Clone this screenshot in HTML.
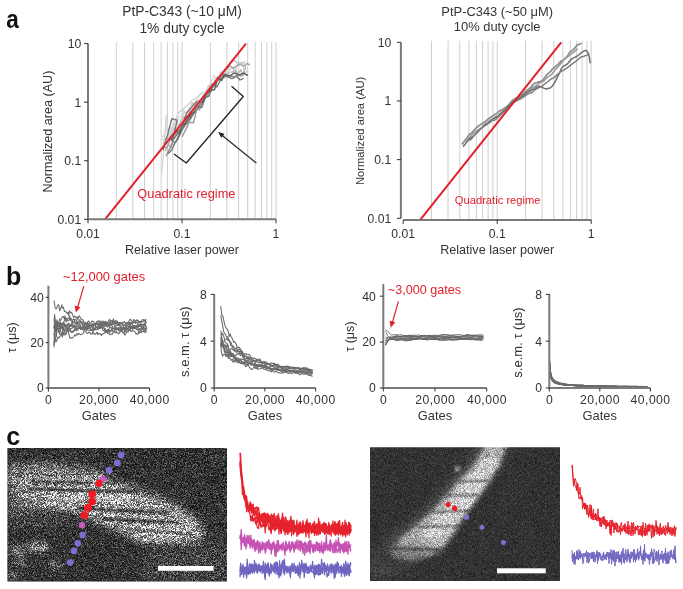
<!DOCTYPE html>
<html><head><meta charset="utf-8"><style>
html,body{margin:0;padding:0;background:#fff;width:683px;height:589px;overflow:hidden}
svg{position:absolute;left:0;top:0;font-family:"Liberation Sans",sans-serif;will-change:transform}
</style></head><body>
<svg width="683" height="589" viewBox="0 0 683 589">
<defs>

<filter id="spk1" x="0" y="0" width="1" height="1" filterUnits="objectBoundingBox" color-interpolation-filters="sRGB">
 <feTurbulence type="fractalNoise" baseFrequency="1.9" numOctaves="1" seed="3" result="nz"/>
 <feColorMatrix in="nz" type="matrix" values="2.6 0 0 0 -0.8  2.6 0 0 0 -0.8  2.6 0 0 0 -0.8  0 0 0 0 1" result="ng"/>
 <feComponentTransfer in="ng" result="ngp"><feFuncR type="gamma" exponent="1.5"/><feFuncG type="gamma" exponent="1.5"/><feFuncB type="gamma" exponent="1.5"/></feComponentTransfer>
 <feGaussianBlur in="ngp" stdDeviation="0.5" result="ngb"/>
 <feComposite in="SourceGraphic" in2="ngb" operator="arithmetic" k1="1.5" k2="0.42" k3="0.07" k4="-0.03"/>
</filter>

<filter id="spk2" x="0" y="0" width="1" height="1" filterUnits="objectBoundingBox" color-interpolation-filters="sRGB">
 <feTurbulence type="fractalNoise" baseFrequency="1.9" numOctaves="1" seed="8" result="nz"/>
 <feColorMatrix in="nz" type="matrix" values="2.6 0 0 0 -0.8  2.6 0 0 0 -0.8  2.6 0 0 0 -0.8  0 0 0 0 1" result="ng"/>
 <feGaussianBlur in="ng" stdDeviation="0.55" result="ngb"/>
 <feComposite in="SourceGraphic" in2="ngb" operator="arithmetic" k1="0.6" k2="0.72" k3="0.05" k4="-0.025"/>
</filter>

<filter id="bl6" x="-50%" y="-50%" width="200%" height="200%"><feGaussianBlur stdDeviation="6"/></filter>
<filter id="bl4" x="-50%" y="-50%" width="200%" height="200%"><feGaussianBlur stdDeviation="4"/></filter>
<filter id="bl2" x="-50%" y="-50%" width="200%" height="200%"><feGaussianBlur stdDeviation="2"/></filter>
<filter id="bl3" x="-50%" y="-50%" width="200%" height="200%"><feGaussianBlur stdDeviation="3"/></filter>
<filter id="bl1" x="-50%" y="-50%" width="200%" height="200%"><feGaussianBlur stdDeviation="1"/></filter>
<clipPath id="cp1"><rect x="7.4" y="448" width="219.6" height="133.5"/></clipPath>
<clipPath id="cp2"><rect x="370" y="447.3" width="190" height="133.7"/></clipPath>

</defs>

<g clip-path="url(#cp1)"><g filter="url(#spk1)">
 <rect x="7.4" y="448" width="219.6" height="133.5" fill="#353535"/>
 <g filter="url(#bl6)">
  <polygon points="8,467 50,465 92,471 112,480 100,490 40,491 8,493" fill="#969696"/>
  <polygon points="8,490 40,490 58,505 45,520 8,522" fill="#626262"/>
 </g>
 <g filter="url(#bl4)">
  <polygon points="30,478 90,477 140,490 177,506 199,522 205,536 196,544 152,542 115,530 77,513 40,507 15,500" fill="#a2a2a2"/>
 </g>
 <g filter="url(#bl6)">
  <polygon points="150,550 227,542 227,581 140,581" fill="#484848"/>
 </g>
 <g filter="url(#bl4)">
  <ellipse cx="88" cy="498" rx="45" ry="8" fill="#c8c8c8"/>
  <ellipse cx="162" cy="531" rx="34" ry="9" fill="#c4c4c4"/>
 </g>
 <g filter="url(#bl3)">
  <ellipse cx="38" cy="547" rx="11" ry="4.5" fill="#a4a4a4"/>
  <ellipse cx="17" cy="550" rx="8" ry="4.5" fill="#8a8a8a"/>
  <ellipse cx="19" cy="562" rx="6" ry="4" fill="#7c7c7c"/>
  <ellipse cx="56" cy="565" rx="7" ry="4" fill="#747474"/>
  <ellipse cx="12" cy="576" rx="6" ry="4" fill="#6c6c6c"/>
  <ellipse cx="40" cy="520" rx="30" ry="8" fill="#4a4a4a"/>
 </g>
 <g filter="url(#bl1)" stroke="#1c1c1c" stroke-width="2.6" fill="none">
  <path d="M28,489 L140,492"/>
  <path d="M77,508 L169,513"/>
  <path d="M102,519 L179,523"/>
  <path d="M30,482 L92,483" stroke-width="1.8"/>
  <path d="M15,474 L80,475" stroke-width="1.6" opacity="0.7"/>
  <path d="M20,500 L110,503" stroke-width="1.6" opacity="0.6"/>
  <path d="M125,529 L192,534" stroke-width="1.8" opacity="0.8"/>
 </g>
</g></g>

<g clip-path="url(#cp2)"><g filter="url(#spk2)">
 <rect x="370" y="447.3" width="190" height="133.7" fill="#313131"/>
 <g filter="url(#bl6)">
  <polygon points="483,440 510,440 498,467 482,482 472,496 462,511 453,532 442,547 431,558 412,569 385,576 370,572 370,552 392,537 412,522 426,508 440,494 452,480 466,466" fill="#505050"/>
 </g>
 <g filter="url(#bl2)">
  <polygon points="487,444 507,444 499,467 486,481.6 476,496 466,511 456,530 444,546 431,556 412,561 395,558 390,550 403,537 420,523 432,511 446,496 458,481.6 472,467" fill="#aaaaaa"/>
  <polygon points="485,458 500,458 490,481 474,503 460,522 446,536 430,541 424,532 440,512 455,493 470,474" fill="#cacaca"/>
 </g>
 <g filter="url(#bl6)">
  <ellipse cx="402" cy="557" rx="34" ry="13" fill="#000" opacity="0.28"/>
 </g>
 <g filter="url(#bl1)">
  <circle cx="457.3" cy="469" r="3" fill="#858585"/>
 </g>
 <g filter="url(#bl1)" stroke="#454545" stroke-width="2" fill="none" opacity="0.85">
  <path d="M458,482 L490,481"/>
  <path d="M446,495.5 L480,495"/>
  <path d="M432,512 L470,511"/>
  <path d="M418,527 L462,526"/>
  <path d="M390,548.5 L440,549.5" stroke-width="3"/>
 </g>
</g></g>
<rect x="158" y="566" width="55.5" height="4.8" fill="#fff"/>
<rect x="497" y="568.3" width="48.7" height="5" fill="#fff"/>
<g id="dots1">
<circle cx="121" cy="455.1" r="3.3" fill="#7a6fd3"/>
<circle cx="117.3" cy="462.9" r="3.3" fill="#7a6fd3"/>
<circle cx="109" cy="470.3" r="3.3" fill="#7a6fd3"/>
<circle cx="103" cy="479.1" r="3.3" fill="#c35cbd"/>
<circle cx="98.9" cy="483.4" r="3.7" fill="#ee1b24"/>
<circle cx="92.3" cy="494.1" r="3.9" fill="#ee1b24"/>
<circle cx="92.1" cy="501.5" r="3.9" fill="#ee1b24"/>
<circle cx="87.9" cy="507.8" r="3.9" fill="#ee1b24"/>
<circle cx="84.4" cy="515.2" r="3.9" fill="#ee1b24"/>
<circle cx="82" cy="525.2" r="3.3" fill="#c35cbd"/>
<circle cx="82.6" cy="535" r="3.3" fill="#7a6fd3"/>
<circle cx="77.8" cy="543.3" r="3.3" fill="#7a6fd3"/>
<circle cx="73.9" cy="551" r="3.3" fill="#7a6fd3"/>
<circle cx="70.1" cy="562.5" r="3.3" fill="#7a6fd3"/>
</g>
<g id="dots2">
<circle cx="448.2" cy="504.6" r="2.6" fill="#ee1b24"/>
<circle cx="454.6" cy="508.4" r="2.6" fill="#ee1b24"/>
<circle cx="466.7" cy="517.2" r="2.5" fill="#7a6fd3"/>
<circle cx="481.9" cy="527.3" r="2.5" fill="#7a6fd3"/>
<circle cx="503.4" cy="542.5" r="2.5" fill="#7a6fd3"/>
</g>
<polyline points="240.0,453.1 240.6,465.5 241.2,467.1 241.8,473.9 242.4,484.1 243.0,493.7 243.6,493.5 244.2,491.9 244.8,496.3 245.4,501.4 246.0,507.1 246.6,506.0 247.2,506.6 247.8,508.7 248.4,511.5 249.0,509.7 249.6,513.4 250.2,515.4 250.8,520.9 251.4,516.2 252.0,520.4 252.6,514.5 253.2,521.5 253.8,519.9 254.4,518.2 255.0,520.4 255.6,524.0 256.2,520.5 256.8,525.4 257.4,527.5 258.0,528.2 258.6,528.6 259.2,519.3 259.8,525.0 260.4,521.9 261.0,527.6 261.6,525.0 262.2,525.7 262.8,526.8 263.4,523.5 264.0,526.0 264.6,523.5 265.2,533.0 265.8,524.7 266.4,526.4 267.0,520.6 267.6,521.8 268.2,524.0 268.8,529.6 269.4,529.6 270.0,528.1 270.6,525.1 271.2,533.6 271.8,524.1 272.4,524.7 273.0,529.3 273.6,524.4 274.2,528.7 274.8,531.1 275.4,527.7 276.0,529.4 276.6,528.2 277.2,525.9 277.8,517.6 278.4,524.2 279.0,528.3 279.6,522.9 280.2,526.5 280.8,529.1 281.4,532.9 282.0,523.9 282.6,526.8 283.2,529.3 283.8,530.4 284.4,524.0 285.0,534.9 285.6,526.0 286.2,532.4 286.8,528.1 287.4,530.1 288.0,534.4 288.6,531.2 289.2,529.3 289.8,525.5 290.4,526.7 291.0,524.1 291.6,535.7 292.2,523.7 292.8,520.3 293.4,534.5 294.0,533.3 294.6,527.8 295.2,531.9 295.8,526.3 296.4,527.1 297.0,530.8 297.6,530.4 298.2,527.6 298.8,534.6 299.4,531.6 300.0,529.6 300.6,525.2 301.2,529.6 301.8,528.1 302.4,528.9 303.0,531.9 303.6,527.3 304.2,530.1 304.8,531.9 305.4,530.4 306.0,537.0 306.6,523.4 307.2,529.1 307.8,525.3 308.4,529.1 309.0,537.8 309.6,523.8 310.2,528.3 310.8,531.5 311.4,529.6 312.0,532.4 312.6,524.1 313.2,532.6 313.8,526.1 314.4,525.3 315.0,531.3 315.6,531.0 316.2,526.9 316.8,526.6 317.4,528.7 318.0,529.4 318.6,528.8 319.2,526.0 319.8,521.6 320.4,533.9 321.0,530.0 321.6,525.2 322.2,524.1 322.8,527.1 323.4,528.0 324.0,522.3 324.6,534.2 325.2,530.9 325.8,528.4 326.4,530.7 327.0,530.3 327.6,533.1 328.2,530.0 328.8,533.8 329.4,534.7 330.0,528.4 330.6,528.0 331.2,526.5 331.8,528.7 332.4,527.1 333.0,529.6 333.6,530.6 334.2,531.4 334.8,525.6 335.4,533.2 336.0,528.5 336.6,529.2 337.2,527.8 337.8,522.8 338.4,530.4 339.0,523.6 339.6,533.3 340.2,529.7 340.8,534.9 341.4,531.8 342.0,532.0 342.6,534.3 343.2,529.5 343.8,534.8 344.4,529.2 345.0,530.5 345.6,527.3 346.2,531.5 346.8,531.9 347.4,527.9 348.0,525.3 348.6,529.5 349.2,531.1 349.8,529.1 350.4,526.3 351.0,527.2" fill="none" stroke="#e6222c" stroke-width="1.2" stroke-linejoin="round" />
<polyline points="240.0,452.6 240.6,454.1 241.2,468.7 241.8,481.9 242.4,478.0 243.0,485.9 243.6,496.0 244.2,495.8 244.8,499.2 245.4,497.8 246.0,495.8 246.6,511.8 247.2,504.6 247.8,505.8 248.4,511.8 249.0,510.2 249.6,508.7 250.2,505.7 250.8,509.8 251.4,510.7 252.0,509.7 252.6,509.8 253.2,510.0 253.8,513.7 254.4,512.7 255.0,516.7 255.6,519.3 256.2,517.5 256.8,517.0 257.4,522.7 258.0,520.1 258.6,513.4 259.2,516.4 259.8,519.9 260.4,516.6 261.0,522.6 261.6,514.4 262.2,514.3 262.8,524.4 263.4,523.3 264.0,516.3 264.6,522.2 265.2,526.8 265.8,518.8 266.4,518.8 267.0,518.9 267.6,520.0 268.2,517.6 268.8,522.1 269.4,519.0 270.0,524.4 270.6,531.9 271.2,521.0 271.8,527.8 272.4,528.9 273.0,517.2 273.6,525.6 274.2,525.3 274.8,524.4 275.4,528.4 276.0,524.3 276.6,527.1 277.2,524.8 277.8,525.7 278.4,523.7 279.0,534.1 279.6,526.3 280.2,522.8 280.8,533.3 281.4,532.2 282.0,526.3 282.6,524.8 283.2,524.6 283.8,531.4 284.4,526.2 285.0,524.9 285.6,530.3 286.2,526.6 286.8,527.4 287.4,534.2 288.0,530.6 288.6,532.0 289.2,529.2 289.8,532.2 290.4,527.3 291.0,531.2 291.6,531.6 292.2,526.7 292.8,523.8 293.4,530.0 294.0,527.8 294.6,530.3 295.2,526.3 295.8,530.1 296.4,531.6 297.0,536.4 297.6,534.5 298.2,529.8 298.8,533.4 299.4,526.4 300.0,532.6 300.6,529.1 301.2,533.1 301.8,529.8 302.4,527.9 303.0,526.3 303.6,533.0 304.2,529.0 304.8,531.2 305.4,530.4 306.0,521.9 306.6,530.9 307.2,527.6 307.8,530.2 308.4,530.6 309.0,522.8 309.6,527.9 310.2,528.8 310.8,530.3 311.4,532.2 312.0,526.7 312.6,528.3 313.2,531.2 313.8,522.9 314.4,535.4 315.0,525.9 315.6,533.6 316.2,529.6 316.8,535.5 317.4,532.7 318.0,529.1 318.6,523.5 319.2,529.7 319.8,530.3 320.4,531.1 321.0,525.0 321.6,526.5 322.2,526.6 322.8,530.2 323.4,526.3 324.0,528.9 324.6,532.5 325.2,527.9 325.8,533.9 326.4,530.3 327.0,528.5 327.6,533.1 328.2,531.0 328.8,528.4 329.4,527.4 330.0,529.2 330.6,530.6 331.2,533.3 331.8,530.3 332.4,527.3 333.0,524.9 333.6,530.3 334.2,530.8 334.8,533.3 335.4,527.7 336.0,525.1 336.6,532.3 337.2,528.9 337.8,525.4 338.4,535.1 339.0,532.5 339.6,529.7 340.2,530.5 340.8,527.0 341.4,532.9 342.0,528.1 342.6,528.0 343.2,528.5 343.8,525.7 344.4,533.0 345.0,535.2 345.6,532.1 346.2,522.6 346.8,528.5 347.4,527.4 348.0,530.8 348.6,522.3 349.2,522.3 349.8,528.0 350.4,532.9 351.0,529.0" fill="none" stroke="#e6222c" stroke-width="1.2" stroke-linejoin="round" />
<polyline points="240.0,464.0 240.6,462.6 241.2,472.9 241.8,478.1 242.4,480.7 243.0,491.2 243.6,486.3 244.2,490.0 244.8,494.6 245.4,496.3 246.0,503.4 246.6,499.3 247.2,504.1 247.8,502.1 248.4,509.0 249.0,505.6 249.6,507.5 250.2,501.9 250.8,510.6 251.4,506.7 252.0,512.6 252.6,511.9 253.2,512.7 253.8,515.2 254.4,513.3 255.0,509.6 255.6,513.6 256.2,514.1 256.8,510.1 257.4,516.6 258.0,519.9 258.6,516.2 259.2,516.2 259.8,517.8 260.4,520.3 261.0,515.2 261.6,520.6 262.2,515.2 262.8,519.9 263.4,520.1 264.0,514.4 264.6,521.3 265.2,520.1 265.8,514.0 266.4,518.4 267.0,518.1 267.6,517.5 268.2,522.1 268.8,518.3 269.4,521.4 270.0,517.8 270.6,520.8 271.2,528.1 271.8,523.6 272.4,517.1 273.0,519.4 273.6,522.3 274.2,517.5 274.8,526.5 275.4,523.2 276.0,523.3 276.6,523.9 277.2,521.6 277.8,520.2 278.4,513.7 279.0,518.9 279.6,525.3 280.2,526.9 280.8,524.1 281.4,518.7 282.0,523.9 282.6,525.3 283.2,520.9 283.8,530.0 284.4,521.7 285.0,525.6 285.6,522.1 286.2,528.9 286.8,521.7 287.4,523.0 288.0,529.9 288.6,522.0 289.2,524.5 289.8,528.3 290.4,527.7 291.0,520.7 291.6,528.7 292.2,525.8 292.8,531.0 293.4,521.1 294.0,529.6 294.6,528.4 295.2,525.9 295.8,525.8 296.4,528.6 297.0,525.0 297.6,526.2 298.2,524.9 298.8,528.0 299.4,529.8 300.0,522.3 300.6,527.8 301.2,528.8 301.8,532.9 302.4,525.3 303.0,532.1 303.6,526.4 304.2,529.6 304.8,528.8 305.4,529.0 306.0,527.0 306.6,524.8 307.2,533.2 307.8,533.1 308.4,527.9 309.0,527.7 309.6,527.6 310.2,523.9 310.8,524.7 311.4,529.8 312.0,531.7 312.6,527.7 313.2,525.4 313.8,524.9 314.4,526.5 315.0,531.0 315.6,528.8 316.2,523.9 316.8,524.8 317.4,529.8 318.0,529.8 318.6,534.7 319.2,533.6 319.8,529.4 320.4,526.5 321.0,529.5 321.6,525.0 322.2,526.6 322.8,532.3 323.4,531.0 324.0,532.1 324.6,534.2 325.2,527.6 325.8,531.7 326.4,529.3 327.0,530.1 327.6,529.8 328.2,530.9 328.8,524.4 329.4,524.5 330.0,529.4 330.6,530.8 331.2,527.5 331.8,528.8 332.4,524.4 333.0,532.4 333.6,530.8 334.2,534.3 334.8,527.9 335.4,528.9 336.0,529.5 336.6,533.9 337.2,531.2 337.8,530.6 338.4,523.8 339.0,526.4 339.6,524.4 340.2,528.7 340.8,532.2 341.4,529.5 342.0,526.3 342.6,536.2 343.2,525.7 343.8,534.1 344.4,533.3 345.0,530.3 345.6,534.0 346.2,525.8 346.8,527.6 347.4,528.4 348.0,530.7 348.6,528.9 349.2,535.2 349.8,528.2 350.4,528.7 351.0,525.4" fill="none" stroke="#e6222c" stroke-width="1.2" stroke-linejoin="round" />
<polyline points="240.0,461.1 240.6,470.8 241.2,472.6 241.8,476.5 242.4,480.7 243.0,493.0 243.6,494.8 244.2,495.7 244.8,499.4 245.4,500.3 246.0,501.8 246.6,496.1 247.2,504.5 247.8,506.1 248.4,508.5 249.0,508.8 249.6,504.0 250.2,507.9 250.8,502.9 251.4,513.1 252.0,504.2 252.6,511.8 253.2,507.2 253.8,507.7 254.4,507.9 255.0,510.2 255.6,513.1 256.2,516.0 256.8,511.6 257.4,515.9 258.0,516.4 258.6,520.8 259.2,512.2 259.8,515.6 260.4,517.3 261.0,515.8 261.6,517.7 262.2,513.7 262.8,515.1 263.4,514.5 264.0,514.7 264.6,514.2 265.2,517.2 265.8,513.6 266.4,516.1 267.0,520.3 267.6,513.3 268.2,515.3 268.8,517.7 269.4,515.7 270.0,516.2 270.6,526.1 271.2,521.2 271.8,518.7 272.4,518.0 273.0,515.4 273.6,517.0 274.2,513.3 274.8,523.2 275.4,519.8 276.0,524.7 276.6,521.8 277.2,515.3 277.8,528.6 278.4,524.1 279.0,525.6 279.6,520.8 280.2,521.0 280.8,522.4 281.4,529.2 282.0,519.1 282.6,519.9 283.2,525.4 283.8,517.1 284.4,528.9 285.0,520.1 285.6,528.2 286.2,523.8 286.8,523.2 287.4,520.7 288.0,529.5 288.6,523.8 289.2,520.4 289.8,527.1 290.4,524.6 291.0,526.9 291.6,523.9 292.2,526.6 292.8,527.0 293.4,525.7 294.0,520.2 294.6,527.4 295.2,530.5 295.8,527.4 296.4,529.2 297.0,528.8 297.6,525.2 298.2,529.9 298.8,525.6 299.4,523.1 300.0,522.3 300.6,530.1 301.2,529.0 301.8,528.8 302.4,524.9 303.0,520.7 303.6,529.5 304.2,526.7 304.8,525.0 305.4,525.0 306.0,525.2 306.6,521.0 307.2,529.4 307.8,529.7 308.4,530.3 309.0,526.2 309.6,523.3 310.2,522.9 310.8,526.5 311.4,533.5 312.0,530.8 312.6,527.8 313.2,529.4 313.8,530.6 314.4,528.1 315.0,528.7 315.6,528.7 316.2,526.0 316.8,524.2 317.4,526.2 318.0,532.0 318.6,522.8 319.2,526.7 319.8,526.8 320.4,528.4 321.0,526.8 321.6,531.0 322.2,527.1 322.8,528.3 323.4,530.8 324.0,523.7 324.6,532.1 325.2,532.0 325.8,524.1 326.4,528.2 327.0,526.1 327.6,527.4 328.2,531.3 328.8,522.3 329.4,531.5 330.0,530.1 330.6,528.7 331.2,536.2 331.8,527.1 332.4,523.7 333.0,530.1 333.6,529.3 334.2,526.7 334.8,521.7 335.4,522.5 336.0,534.4 336.6,523.8 337.2,533.6 337.8,531.7 338.4,521.6 339.0,529.6 339.6,531.2 340.2,532.8 340.8,533.5 341.4,533.3 342.0,529.0 342.6,528.3 343.2,528.4 343.8,530.9 344.4,526.0 345.0,525.6 345.6,536.9 346.2,532.4 346.8,532.8 347.4,528.4 348.0,526.4 348.6,527.8 349.2,526.6 349.8,527.2 350.4,524.0 351.0,531.4" fill="none" stroke="#e6222c" stroke-width="1.2" stroke-linejoin="round" />
<polyline points="240.0,463.6 240.6,473.6 241.2,478.0 241.8,480.8 242.4,494.5 243.0,494.4 243.6,496.0 244.2,499.5 244.8,497.5 245.4,502.6 246.0,499.1 246.6,506.2 247.2,507.0 247.8,507.6 248.4,506.9 249.0,506.7 249.6,507.7 250.2,510.0 250.8,506.6 251.4,511.0 252.0,511.7 252.6,505.3 253.2,504.3 253.8,511.4 254.4,509.7 255.0,508.5 255.6,507.5 256.2,508.3 256.8,506.8 257.4,511.5 258.0,507.8 258.6,507.6 259.2,513.3 259.8,519.1 260.4,518.5 261.0,514.1 261.6,516.2 262.2,514.4 262.8,515.1 263.4,513.2 264.0,516.1 264.6,512.8 265.2,514.1 265.8,516.3 266.4,516.8 267.0,524.2 267.6,514.6 268.2,514.1 268.8,520.2 269.4,520.2 270.0,520.8 270.6,518.3 271.2,513.9 271.8,517.9 272.4,515.1 273.0,519.3 273.6,525.6 274.2,518.9 274.8,520.5 275.4,523.9 276.0,516.0 276.6,523.2 277.2,519.7 277.8,518.7 278.4,520.0 279.0,518.0 279.6,524.4 280.2,522.0 280.8,520.3 281.4,523.6 282.0,517.1 282.6,513.0 283.2,526.8 283.8,520.6 284.4,525.2 285.0,519.8 285.6,516.9 286.2,519.4 286.8,526.3 287.4,524.6 288.0,521.3 288.6,525.9 289.2,522.7 289.8,524.4 290.4,520.3 291.0,516.4 291.6,524.4 292.2,526.5 292.8,521.4 293.4,529.8 294.0,525.5 294.6,530.5 295.2,527.0 295.8,529.0 296.4,524.1 297.0,520.1 297.6,532.5 298.2,529.6 298.8,527.6 299.4,522.3 300.0,528.5 300.6,522.1 301.2,527.4 301.8,528.8 302.4,527.5 303.0,522.5 303.6,528.0 304.2,526.6 304.8,527.9 305.4,530.4 306.0,524.0 306.6,523.4 307.2,519.2 307.8,531.4 308.4,523.8 309.0,530.9 309.6,527.8 310.2,530.7 310.8,527.5 311.4,528.4 312.0,526.0 312.6,528.4 313.2,523.4 313.8,530.4 314.4,521.4 315.0,525.3 315.6,525.8 316.2,527.5 316.8,526.8 317.4,524.0 318.0,527.5 318.6,518.2 319.2,525.0 319.8,527.2 320.4,525.1 321.0,530.7 321.6,527.0 322.2,529.1 322.8,523.8 323.4,530.8 324.0,530.2 324.6,522.6 325.2,532.5 325.8,523.9 326.4,523.8 327.0,530.6 327.6,533.8 328.2,530.1 328.8,527.4 329.4,525.6 330.0,525.5 330.6,528.7 331.2,529.3 331.8,524.8 332.4,529.8 333.0,520.8 333.6,528.9 334.2,525.1 334.8,523.9 335.4,535.3 336.0,530.3 336.6,527.3 337.2,524.6 337.8,533.1 338.4,528.7 339.0,525.8 339.6,520.4 340.2,531.5 340.8,531.0 341.4,530.2 342.0,524.9 342.6,522.4 343.2,532.4 343.8,527.5 344.4,531.1 345.0,520.0 345.6,527.7 346.2,531.0 346.8,528.5 347.4,534.8 348.0,531.6 348.6,532.2 349.2,531.0 349.8,528.0 350.4,526.1 351.0,526.0" fill="none" stroke="#e6222c" stroke-width="1.2" stroke-linejoin="round" />
<polyline points="240.0,538.8 240.6,537.0 241.2,549.8 241.8,540.2 242.4,539.5 243.0,540.7 243.6,537.8 244.2,537.5 244.8,542.1 245.4,539.1 246.0,543.7 246.6,540.5 247.2,535.4 247.8,537.2 248.4,539.1 249.0,535.4 249.6,542.2 250.2,541.7 250.8,546.2 251.4,540.1 252.0,542.5 252.6,545.5 253.2,546.2 253.8,540.3 254.4,549.3 255.0,542.0 255.6,548.4 256.2,543.4 256.8,543.1 257.4,540.3 258.0,544.3 258.6,553.1 259.2,542.8 259.8,550.4 260.4,549.8 261.0,543.9 261.6,549.2 262.2,550.2 262.8,544.5 263.4,543.7 264.0,549.5 264.6,546.9 265.2,553.1 265.8,547.3 266.4,541.9 267.0,545.8 267.6,541.9 268.2,548.7 268.8,548.5 269.4,544.7 270.0,543.1 270.6,549.3 271.2,545.0 271.8,550.5 272.4,542.9 273.0,545.4 273.6,544.5 274.2,542.8 274.8,555.9 275.4,552.3 276.0,544.3 276.6,549.3 277.2,540.3 277.8,550.9 278.4,550.4 279.0,545.4 279.6,545.4 280.2,547.5 280.8,548.3 281.4,545.4 282.0,543.8 282.6,545.8 283.2,545.3 283.8,549.5 284.4,547.1 285.0,547.6 285.6,541.0 286.2,545.5 286.8,545.5 287.4,545.0 288.0,546.4 288.6,545.8 289.2,541.6 289.8,550.1 290.4,550.1 291.0,545.1 291.6,549.1 292.2,543.7 292.8,542.6 293.4,546.2 294.0,552.3 294.6,546.6 295.2,541.7 295.8,547.8 296.4,545.0 297.0,544.5 297.6,548.2 298.2,541.0 298.8,540.8 299.4,542.0 300.0,550.8 300.6,547.4 301.2,544.9 301.8,544.7 302.4,549.3 303.0,551.4 303.6,544.6 304.2,548.0 304.8,555.3 305.4,549.2 306.0,546.0 306.6,548.3 307.2,547.5 307.8,549.4 308.4,548.4 309.0,545.4 309.6,546.7 310.2,548.4 310.8,544.8 311.4,547.4 312.0,544.0 312.6,551.4 313.2,552.6 313.8,544.1 314.4,550.1 315.0,547.7 315.6,547.5 316.2,546.3 316.8,548.1 317.4,550.6 318.0,542.9 318.6,550.7 319.2,546.3 319.8,543.4 320.4,547.0 321.0,549.4 321.6,546.9 322.2,548.2 322.8,546.0 323.4,545.3 324.0,550.6 324.6,543.9 325.2,550.6 325.8,548.3 326.4,546.2 327.0,546.4 327.6,546.2 328.2,547.1 328.8,547.0 329.4,546.7 330.0,540.5 330.6,539.9 331.2,548.4 331.8,545.0 332.4,545.2 333.0,546.6 333.6,543.4 334.2,552.5 334.8,547.2 335.4,546.6 336.0,543.6 336.6,550.2 337.2,549.7 337.8,552.3 338.4,550.3 339.0,544.4 339.6,542.8 340.2,551.9 340.8,544.9 341.4,546.8 342.0,546.7 342.6,548.9 343.2,549.1 343.8,543.7 344.4,545.0 345.0,541.3 345.6,549.1 346.2,546.6 346.8,541.4 347.4,550.8 348.0,547.2 348.6,543.7 349.2,545.8 349.8,545.2 350.4,547.6 351.0,547.9" fill="none" stroke="#c652b3" stroke-width="1.2" stroke-linejoin="round" />
<polyline points="240.0,535.2 240.6,539.1 241.2,529.3 241.8,537.4 242.4,541.2 243.0,542.7 243.6,542.5 244.2,536.6 244.8,534.7 245.4,539.7 246.0,548.9 246.6,542.3 247.2,539.2 247.8,536.3 248.4,542.7 249.0,540.9 249.6,544.4 250.2,543.6 250.8,535.1 251.4,542.9 252.0,546.2 252.6,541.7 253.2,539.8 253.8,540.1 254.4,539.7 255.0,551.7 255.6,549.2 256.2,542.5 256.8,549.4 257.4,541.2 258.0,543.1 258.6,542.5 259.2,544.5 259.8,547.5 260.4,552.2 261.0,547.9 261.6,545.1 262.2,546.1 262.8,544.9 263.4,547.0 264.0,542.9 264.6,546.7 265.2,547.5 265.8,549.2 266.4,543.2 267.0,547.5 267.6,547.1 268.2,543.4 268.8,539.6 269.4,544.4 270.0,549.3 270.6,545.4 271.2,554.1 271.8,548.3 272.4,544.0 273.0,546.2 273.6,548.1 274.2,548.2 274.8,545.8 275.4,548.2 276.0,556.6 276.6,549.7 277.2,547.2 277.8,545.1 278.4,540.7 279.0,547.3 279.6,545.4 280.2,546.6 280.8,544.9 281.4,549.4 282.0,550.4 282.6,544.5 283.2,542.2 283.8,547.9 284.4,551.5 285.0,548.3 285.6,548.5 286.2,542.2 286.8,545.1 287.4,548.9 288.0,548.2 288.6,546.9 289.2,548.9 289.8,549.8 290.4,547.3 291.0,544.6 291.6,542.2 292.2,547.7 292.8,546.4 293.4,546.4 294.0,550.7 294.6,544.8 295.2,546.1 295.8,549.2 296.4,544.0 297.0,539.8 297.6,545.2 298.2,549.8 298.8,545.0 299.4,546.2 300.0,540.8 300.6,551.0 301.2,541.2 301.8,544.8 302.4,546.4 303.0,553.6 303.6,547.4 304.2,544.6 304.8,542.0 305.4,546.0 306.0,542.9 306.6,545.0 307.2,547.2 307.8,551.1 308.4,543.4 309.0,551.6 309.6,540.6 310.2,553.6 310.8,544.9 311.4,545.8 312.0,545.5 312.6,547.8 313.2,546.9 313.8,546.0 314.4,544.7 315.0,545.2 315.6,547.3 316.2,545.3 316.8,544.8 317.4,542.3 318.0,547.2 318.6,548.7 319.2,543.7 319.8,550.4 320.4,547.0 321.0,547.4 321.6,541.4 322.2,549.1 322.8,551.3 323.4,553.6 324.0,545.0 324.6,546.9 325.2,549.6 325.8,548.9 326.4,545.0 327.0,547.3 327.6,550.4 328.2,549.0 328.8,546.9 329.4,550.6 330.0,542.1 330.6,548.5 331.2,544.9 331.8,545.9 332.4,549.8 333.0,552.9 333.6,548.6 334.2,547.5 334.8,552.6 335.4,549.6 336.0,539.8 336.6,545.1 337.2,544.9 337.8,544.9 338.4,542.1 339.0,549.3 339.6,547.7 340.2,552.9 340.8,546.2 341.4,547.5 342.0,544.6 342.6,550.5 343.2,551.3 343.8,552.7 344.4,550.5 345.0,545.2 345.6,551.2 346.2,544.1 346.8,545.1 347.4,546.5 348.0,554.1 348.6,544.8 349.2,543.9 349.8,548.0 350.4,551.1 351.0,549.0" fill="none" stroke="#c652b3" stroke-width="1.2" stroke-linejoin="round" />
<polyline points="240.0,539.0 240.6,534.9 241.2,536.9 241.8,542.8 242.4,539.4 243.0,537.3 243.6,538.6 244.2,544.6 244.8,546.2 245.4,542.2 246.0,538.4 246.6,546.9 247.2,539.6 247.8,542.3 248.4,543.6 249.0,542.5 249.6,542.1 250.2,548.3 250.8,544.2 251.4,538.6 252.0,541.6 252.6,548.1 253.2,543.3 253.8,540.7 254.4,547.2 255.0,546.0 255.6,544.6 256.2,546.5 256.8,543.5 257.4,545.5 258.0,546.9 258.6,543.3 259.2,549.3 259.8,541.9 260.4,552.2 261.0,545.7 261.6,546.8 262.2,541.7 262.8,548.3 263.4,543.1 264.0,547.5 264.6,546.0 265.2,543.4 265.8,551.9 266.4,546.7 267.0,544.5 267.6,545.1 268.2,547.3 268.8,546.5 269.4,549.2 270.0,544.6 270.6,547.2 271.2,544.9 271.8,544.2 272.4,549.2 273.0,544.0 273.6,541.3 274.2,548.8 274.8,545.0 275.4,548.6 276.0,548.5 276.6,548.4 277.2,547.1 277.8,551.9 278.4,543.4 279.0,550.7 279.6,546.4 280.2,547.9 280.8,545.6 281.4,549.8 282.0,548.6 282.6,545.5 283.2,547.2 283.8,548.6 284.4,546.6 285.0,555.1 285.6,548.9 286.2,545.8 286.8,550.4 287.4,548.0 288.0,545.4 288.6,546.0 289.2,541.9 289.8,549.6 290.4,552.1 291.0,546.9 291.6,544.6 292.2,541.6 292.8,543.2 293.4,547.2 294.0,545.1 294.6,546.7 295.2,544.5 295.8,546.7 296.4,546.5 297.0,547.8 297.6,547.5 298.2,547.9 298.8,544.6 299.4,546.3 300.0,543.3 300.6,545.6 301.2,547.1 301.8,548.7 302.4,542.9 303.0,544.1 303.6,545.5 304.2,543.3 304.8,546.3 305.4,546.6 306.0,544.9 306.6,552.5 307.2,545.9 307.8,548.0 308.4,541.5 309.0,550.0 309.6,548.3 310.2,547.9 310.8,540.3 311.4,547.0 312.0,545.1 312.6,548.6 313.2,547.1 313.8,545.5 314.4,545.7 315.0,551.3 315.6,550.8 316.2,541.7 316.8,545.8 317.4,549.3 318.0,545.9 318.6,548.3 319.2,546.2 319.8,552.6 320.4,549.6 321.0,546.6 321.6,551.9 322.2,549.4 322.8,552.7 323.4,545.8 324.0,542.3 324.6,549.8 325.2,547.4 325.8,541.6 326.4,534.8 327.0,547.5 327.6,547.5 328.2,544.6 328.8,545.7 329.4,547.6 330.0,542.7 330.6,551.3 331.2,543.0 331.8,547.3 332.4,547.3 333.0,545.6 333.6,544.7 334.2,550.0 334.8,542.0 335.4,547.2 336.0,552.5 336.6,544.7 337.2,542.2 337.8,545.6 338.4,537.6 339.0,544.7 339.6,543.4 340.2,544.5 340.8,544.3 341.4,549.1 342.0,547.3 342.6,543.8 343.2,551.4 343.8,544.0 344.4,552.0 345.0,545.6 345.6,544.1 346.2,545.7 346.8,551.8 347.4,547.5 348.0,547.0 348.6,541.7 349.2,547.0 349.8,546.1 350.4,545.9 351.0,544.6" fill="none" stroke="#c652b3" stroke-width="1.2" stroke-linejoin="round" />
<polyline points="240.0,577.3 240.6,565.5 241.2,570.7 241.8,568.6 242.4,566.3 243.0,567.4 243.6,567.6 244.2,569.1 244.8,570.9 245.4,573.1 246.0,570.2 246.6,573.4 247.2,571.0 247.8,569.7 248.4,568.6 249.0,565.9 249.6,563.7 250.2,569.0 250.8,568.7 251.4,570.5 252.0,570.5 252.6,564.8 253.2,566.8 253.8,565.3 254.4,572.9 255.0,568.9 255.6,569.7 256.2,566.1 256.8,564.7 257.4,567.2 258.0,568.9 258.6,570.9 259.2,563.8 259.8,570.4 260.4,566.2 261.0,567.4 261.6,568.1 262.2,567.7 262.8,570.9 263.4,572.4 264.0,570.5 264.6,567.3 265.2,570.7 265.8,570.6 266.4,572.3 267.0,570.2 267.6,563.5 268.2,566.6 268.8,567.8 269.4,572.5 270.0,568.8 270.6,572.5 271.2,570.3 271.8,565.0 272.4,569.4 273.0,571.2 273.6,570.7 274.2,564.0 274.8,570.8 275.4,567.2 276.0,561.8 276.6,567.2 277.2,562.2 277.8,564.7 278.4,574.4 279.0,578.0 279.6,573.0 280.2,570.8 280.8,576.0 281.4,570.5 282.0,565.8 282.6,560.5 283.2,572.5 283.8,561.2 284.4,559.1 285.0,566.9 285.6,569.5 286.2,566.2 286.8,573.0 287.4,568.9 288.0,570.0 288.6,570.8 289.2,567.2 289.8,570.0 290.4,577.6 291.0,565.9 291.6,569.9 292.2,571.1 292.8,567.3 293.4,569.1 294.0,563.2 294.6,567.7 295.2,569.4 295.8,573.3 296.4,572.7 297.0,567.2 297.6,565.3 298.2,575.8 298.8,572.5 299.4,562.5 300.0,568.1 300.6,566.1 301.2,567.1 301.8,563.2 302.4,567.8 303.0,567.5 303.6,568.5 304.2,573.0 304.8,570.1 305.4,564.9 306.0,563.1 306.6,567.4 307.2,573.4 307.8,572.7 308.4,567.2 309.0,573.5 309.6,570.9 310.2,567.2 310.8,570.9 311.4,569.1 312.0,565.3 312.6,567.8 313.2,569.9 313.8,574.1 314.4,565.6 315.0,570.2 315.6,569.4 316.2,569.2 316.8,565.0 317.4,573.9 318.0,574.0 318.6,575.1 319.2,571.1 319.8,574.7 320.4,571.3 321.0,573.0 321.6,568.2 322.2,570.2 322.8,568.2 323.4,565.6 324.0,567.8 324.6,565.3 325.2,565.4 325.8,568.0 326.4,567.2 327.0,576.9 327.6,575.8 328.2,573.3 328.8,572.3 329.4,566.3 330.0,570.4 330.6,564.2 331.2,567.1 331.8,567.7 332.4,568.1 333.0,572.5 333.6,566.6 334.2,578.1 334.8,567.6 335.4,572.5 336.0,563.7 336.6,572.7 337.2,565.0 337.8,570.1 338.4,569.4 339.0,572.4 339.6,571.6 340.2,570.8 340.8,568.9 341.4,576.5 342.0,567.8 342.6,569.5 343.2,567.7 343.8,569.9 344.4,565.9 345.0,567.9 345.6,571.3 346.2,567.3 346.8,571.1 347.4,567.3 348.0,574.6 348.6,568.9 349.2,575.8 349.8,571.2 350.4,569.0 351.0,572.9" fill="none" stroke="#6e65c0" stroke-width="1.2" stroke-linejoin="round" />
<polyline points="240.0,573.7 240.6,575.0 241.2,574.5 241.8,572.7 242.4,565.2 243.0,572.8 243.6,569.1 244.2,570.9 244.8,574.0 245.4,566.8 246.0,574.3 246.6,578.1 247.2,571.4 247.8,568.3 248.4,574.4 249.0,570.1 249.6,573.2 250.2,574.0 250.8,564.0 251.4,570.6 252.0,563.9 252.6,566.9 253.2,571.6 253.8,565.1 254.4,566.8 255.0,567.8 255.6,570.6 256.2,570.7 256.8,571.0 257.4,567.6 258.0,566.7 258.6,570.9 259.2,566.3 259.8,566.5 260.4,571.9 261.0,566.5 261.6,566.1 262.2,573.5 262.8,569.2 263.4,561.3 264.0,566.7 264.6,576.5 265.2,579.7 265.8,568.3 266.4,571.9 267.0,572.1 267.6,570.5 268.2,562.8 268.8,573.0 269.4,570.4 270.0,568.5 270.6,563.5 271.2,567.1 271.8,569.0 272.4,568.5 273.0,570.2 273.6,568.0 274.2,573.0 274.8,571.6 275.4,565.2 276.0,567.2 276.6,570.9 277.2,567.4 277.8,574.4 278.4,567.4 279.0,570.2 279.6,571.6 280.2,565.3 280.8,573.9 281.4,568.6 282.0,566.8 282.6,566.8 283.2,563.2 283.8,564.4 284.4,574.8 285.0,568.9 285.6,568.3 286.2,570.0 286.8,571.4 287.4,566.5 288.0,568.6 288.6,570.3 289.2,573.0 289.8,570.3 290.4,575.3 291.0,568.6 291.6,568.1 292.2,564.3 292.8,569.2 293.4,571.7 294.0,568.5 294.6,568.7 295.2,565.8 295.8,567.2 296.4,567.7 297.0,569.0 297.6,573.2 298.2,571.2 298.8,572.6 299.4,573.6 300.0,567.7 300.6,574.2 301.2,569.5 301.8,564.6 302.4,567.2 303.0,569.0 303.6,563.8 304.2,577.6 304.8,569.2 305.4,572.4 306.0,565.0 306.6,569.7 307.2,570.3 307.8,566.6 308.4,570.2 309.0,569.3 309.6,570.7 310.2,565.0 310.8,571.2 311.4,568.3 312.0,566.2 312.6,561.4 313.2,568.6 313.8,568.0 314.4,577.9 315.0,565.0 315.6,574.7 316.2,573.8 316.8,570.8 317.4,570.2 318.0,571.1 318.6,564.0 319.2,574.4 319.8,568.1 320.4,566.6 321.0,569.3 321.6,559.4 322.2,564.5 322.8,565.1 323.4,563.6 324.0,571.4 324.6,575.0 325.2,569.3 325.8,568.1 326.4,570.5 327.0,567.5 327.6,569.8 328.2,570.8 328.8,568.5 329.4,567.8 330.0,569.5 330.6,569.5 331.2,571.7 331.8,563.8 332.4,565.2 333.0,567.5 333.6,571.0 334.2,564.6 334.8,573.6 335.4,574.4 336.0,566.6 336.6,573.3 337.2,561.7 337.8,568.9 338.4,563.4 339.0,573.1 339.6,572.3 340.2,571.1 340.8,567.1 341.4,565.2 342.0,570.7 342.6,567.4 343.2,571.6 343.8,563.5 344.4,570.7 345.0,571.0 345.6,561.0 346.2,564.6 346.8,566.6 347.4,567.0 348.0,562.9 348.6,569.2 349.2,565.1 349.8,568.9 350.4,562.5 351.0,564.9" fill="none" stroke="#6e65c0" stroke-width="1.2" stroke-linejoin="round" />
<polyline points="240.0,571.6 240.6,563.0 241.2,569.0 241.8,574.3 242.4,572.0 243.0,564.4 243.6,577.1 244.2,567.1 244.8,572.5 245.4,572.6 246.0,568.0 246.6,571.4 247.2,559.2 247.8,569.4 248.4,569.7 249.0,567.9 249.6,569.5 250.2,573.0 250.8,572.5 251.4,566.9 252.0,571.9 252.6,573.3 253.2,569.5 253.8,570.5 254.4,560.3 255.0,563.4 255.6,570.5 256.2,563.7 256.8,572.2 257.4,573.3 258.0,565.5 258.6,564.9 259.2,568.4 259.8,569.9 260.4,572.0 261.0,568.3 261.6,569.2 262.2,565.5 262.8,570.1 263.4,566.3 264.0,572.7 264.6,571.6 265.2,563.2 265.8,570.3 266.4,565.1 267.0,572.5 267.6,565.3 268.2,573.6 268.8,572.9 269.4,576.1 270.0,570.2 270.6,569.2 271.2,573.4 271.8,564.6 272.4,568.9 273.0,567.9 273.6,568.8 274.2,563.3 274.8,563.0 275.4,562.9 276.0,574.3 276.6,567.8 277.2,571.3 277.8,568.6 278.4,568.2 279.0,573.7 279.6,560.7 280.2,568.2 280.8,566.2 281.4,565.7 282.0,563.2 282.6,563.5 283.2,564.7 283.8,573.0 284.4,566.5 285.0,567.3 285.6,568.4 286.2,571.3 286.8,572.8 287.4,569.7 288.0,569.0 288.6,570.9 289.2,566.2 289.8,569.8 290.4,575.1 291.0,566.7 291.6,566.0 292.2,563.5 292.8,569.2 293.4,571.3 294.0,567.5 294.6,567.9 295.2,573.3 295.8,569.1 296.4,571.5 297.0,567.7 297.6,573.7 298.2,572.3 298.8,568.5 299.4,566.9 300.0,578.2 300.6,565.2 301.2,565.6 301.8,560.1 302.4,571.5 303.0,569.3 303.6,568.8 304.2,563.6 304.8,569.1 305.4,566.2 306.0,564.9 306.6,568.2 307.2,570.2 307.8,568.6 308.4,567.3 309.0,571.7 309.6,570.0 310.2,567.8 310.8,571.2 311.4,570.2 312.0,572.4 312.6,572.1 313.2,571.7 313.8,567.0 314.4,573.8 315.0,572.7 315.6,567.2 316.2,573.6 316.8,569.4 317.4,565.5 318.0,569.0 318.6,564.5 319.2,573.1 319.8,564.6 320.4,574.4 321.0,566.0 321.6,568.6 322.2,573.7 322.8,570.4 323.4,563.3 324.0,568.6 324.6,562.6 325.2,571.5 325.8,565.5 326.4,568.8 327.0,568.7 327.6,563.8 328.2,570.3 328.8,575.5 329.4,565.9 330.0,567.1 330.6,570.5 331.2,573.5 331.8,566.0 332.4,569.9 333.0,570.4 333.6,572.9 334.2,566.2 334.8,577.9 335.4,576.4 336.0,564.3 336.6,566.3 337.2,570.5 337.8,566.9 338.4,567.3 339.0,569.2 339.6,566.6 340.2,567.0 340.8,569.9 341.4,567.8 342.0,570.5 342.6,572.9 343.2,573.2 343.8,569.5 344.4,576.5 345.0,567.8 345.6,572.4 346.2,575.7 346.8,569.9 347.4,572.1 348.0,567.6 348.6,567.2 349.2,570.0 349.8,571.0 350.4,570.5 351.0,571.6" fill="none" stroke="#6e65c0" stroke-width="1.2" stroke-linejoin="round" />
<polyline points="572.0,468.0 572.5,465.5 573.0,478.5 573.5,486.3 574.0,479.2 574.5,483.9 575.0,485.7 575.5,485.8 576.0,487.4 576.5,490.2 577.0,486.6 577.5,483.4 578.0,484.2 578.5,494.2 579.0,494.7 579.5,494.3 580.0,487.3 580.5,495.9 581.0,497.7 581.5,495.5 582.0,497.4 582.5,508.8 583.0,507.0 583.5,506.0 584.0,505.1 584.5,503.3 585.0,504.5 585.5,509.1 586.0,504.4 586.5,507.4 587.0,514.8 587.5,505.0 588.0,507.5 588.5,517.4 589.0,513.0 589.5,512.9 590.0,509.9 590.5,508.4 591.0,518.4 591.5,505.3 592.0,516.8 592.5,513.6 593.0,515.8 593.5,509.1 594.0,520.2 594.5,519.6 595.0,518.9 595.5,519.8 596.0,513.8 596.5,519.7 597.0,521.2 597.5,519.5 598.0,508.8 598.5,520.1 599.0,521.2 599.5,517.0 600.0,521.6 600.5,526.3 601.0,521.6 601.5,526.9 602.0,520.5 602.5,520.1 603.0,523.9 603.5,520.0 604.0,517.3 604.5,524.8 605.0,523.8 605.5,526.1 606.0,521.1 606.5,522.8 607.0,526.3 607.5,523.0 608.0,524.1 608.5,525.9 609.0,522.5 609.5,526.2 610.0,520.2 610.5,527.4 611.0,535.5 611.5,528.2 612.0,524.6 612.5,520.3 613.0,522.1 613.5,525.4 614.0,523.7 614.5,528.4 615.0,527.2 615.5,529.6 616.0,526.1 616.5,529.9 617.0,532.0 617.5,523.9 618.0,526.9 618.5,526.9 619.0,527.1 619.5,531.6 620.0,526.3 620.5,524.4 621.0,522.9 621.5,522.4 622.0,527.5 622.5,531.1 623.0,528.1 623.5,525.1 624.0,527.4 624.5,524.8 625.0,531.8 625.5,528.6 626.0,533.5 626.5,530.7 627.0,530.6 627.5,525.0 628.0,530.2 628.5,527.1 629.0,526.5 629.5,529.2 630.0,534.4 630.5,530.4 631.0,535.9 631.5,531.1 632.0,523.9 632.5,526.9 633.0,535.6 633.5,531.0 634.0,529.2 634.5,527.3 635.0,529.6 635.5,530.5 636.0,527.5 636.5,528.9 637.0,530.1 637.5,525.3 638.0,528.2 638.5,526.6 639.0,526.9 639.5,526.0 640.0,527.0 640.5,526.3 641.0,535.4 641.5,528.7 642.0,530.6 642.5,526.5 643.0,529.8 643.5,530.9 644.0,535.0 644.5,535.5 645.0,527.8 645.5,535.7 646.0,529.7 646.5,533.8 647.0,529.2 647.5,532.1 648.0,529.2 648.5,524.7 649.0,531.5 649.5,528.5 650.0,529.1 650.5,530.5 651.0,531.4 651.5,538.3 652.0,525.9 652.5,527.8 653.0,526.3 653.5,534.0 654.0,528.6 654.5,527.6 655.0,531.3 655.5,529.9 656.0,531.5 656.5,524.5 657.0,529.7 657.5,531.8 658.0,527.6 658.5,534.0 659.0,529.4 659.5,526.9 660.0,528.2 660.5,531.5 661.0,533.3 661.5,528.0 662.0,531.7 662.5,528.5 663.0,526.5 663.5,526.2 664.0,532.3 664.5,528.1 665.0,530.2 665.5,535.5 666.0,533.2 666.5,528.3 667.0,528.7 667.5,530.6 668.0,522.4 668.5,532.0 669.0,527.2 669.5,532.3 670.0,527.2 670.5,528.5 671.0,532.5 671.5,532.0 672.0,536.0 672.5,528.1 673.0,527.6 673.5,534.9 674.0,531.6 674.5,525.7 675.0,528.1 675.5,531.1 676.0,528.0" fill="none" stroke="#e6222c" stroke-width="1.0" stroke-linejoin="round" />
<polyline points="572.0,464.7 572.5,472.0 573.0,475.4 573.5,480.3 574.0,481.6 574.5,482.3 575.0,478.4 575.5,478.8 576.0,481.1 576.5,488.2 577.0,490.9 577.5,482.7 578.0,492.5 578.5,495.1 579.0,498.6 579.5,497.2 580.0,499.1 580.5,497.8 581.0,497.1 581.5,498.7 582.0,500.2 582.5,497.4 583.0,501.9 583.5,506.8 584.0,503.1 584.5,509.4 585.0,502.9 585.5,508.3 586.0,504.9 586.5,512.1 587.0,511.6 587.5,513.2 588.0,513.4 588.5,513.0 589.0,515.7 589.5,513.2 590.0,504.5 590.5,514.1 591.0,516.0 591.5,506.8 592.0,519.4 592.5,515.5 593.0,519.9 593.5,515.7 594.0,517.8 594.5,514.7 595.0,517.2 595.5,513.0 596.0,519.7 596.5,517.8 597.0,517.3 597.5,517.3 598.0,516.9 598.5,520.5 599.0,520.5 599.5,520.1 600.0,526.2 600.5,518.0 601.0,520.6 601.5,517.7 602.0,521.6 602.5,522.2 603.0,516.7 603.5,524.5 604.0,516.3 604.5,521.8 605.0,522.9 605.5,519.5 606.0,529.0 606.5,525.0 607.0,520.0 607.5,526.1 608.0,526.3 608.5,523.1 609.0,522.4 609.5,528.7 610.0,533.6 610.5,526.5 611.0,533.3 611.5,520.0 612.0,520.4 612.5,526.5 613.0,524.1 613.5,527.3 614.0,533.0 614.5,523.0 615.0,528.3 615.5,526.7 616.0,522.4 616.5,526.2 617.0,523.2 617.5,526.3 618.0,532.5 618.5,531.0 619.0,531.2 619.5,528.0 620.0,525.8 620.5,534.9 621.0,527.8 621.5,529.3 622.0,531.6 622.5,527.4 623.0,529.7 623.5,527.9 624.0,529.3 624.5,531.3 625.0,523.5 625.5,528.6 626.0,526.4 626.5,527.6 627.0,529.7 627.5,533.6 628.0,521.1 628.5,534.5 629.0,526.5 629.5,525.6 630.0,526.0 630.5,529.2 631.0,529.2 631.5,522.5 632.0,522.9 632.5,532.1 633.0,528.3 633.5,522.0 634.0,527.9 634.5,527.7 635.0,534.1 635.5,526.0 636.0,526.8 636.5,527.4 637.0,530.2 637.5,530.6 638.0,531.2 638.5,535.1 639.0,528.6 639.5,534.6 640.0,529.3 640.5,531.8 641.0,532.4 641.5,535.4 642.0,525.7 642.5,537.0 643.0,522.4 643.5,528.6 644.0,528.5 644.5,529.0 645.0,534.1 645.5,523.2 646.0,525.1 646.5,532.5 647.0,535.3 647.5,525.3 648.0,527.2 648.5,531.5 649.0,531.4 649.5,523.8 650.0,528.8 650.5,527.3 651.0,525.0 651.5,528.5 652.0,526.3 652.5,524.6 653.0,537.2 653.5,527.3 654.0,525.6 654.5,535.8 655.0,527.9 655.5,527.7 656.0,520.4 656.5,523.7 657.0,534.4 657.5,526.3 658.0,527.8 658.5,528.5 659.0,530.0 659.5,536.1 660.0,523.6 660.5,523.6 661.0,534.9 661.5,531.9 662.0,532.1 662.5,534.1 663.0,529.2 663.5,532.0 664.0,533.3 664.5,534.6 665.0,530.3 665.5,525.4 666.0,526.9 666.5,528.8 667.0,528.1 667.5,533.6 668.0,525.7 668.5,531.3 669.0,528.0 669.5,530.2 670.0,534.7 670.5,533.2 671.0,527.4 671.5,529.6 672.0,533.0 672.5,529.7 673.0,533.2 673.5,534.3 674.0,528.2 674.5,531.6 675.0,536.5 675.5,531.9 676.0,527.1" fill="none" stroke="#e6222c" stroke-width="1.0" stroke-linejoin="round" />
<polyline points="572.0,550.1 572.5,561.7 573.0,557.4 573.5,553.9 574.0,559.5 574.5,552.3 575.0,564.6 575.5,558.3 576.0,555.9 576.5,559.1 577.0,551.7 577.5,558.2 578.0,559.9 578.5,559.9 579.0,558.1 579.5,552.2 580.0,557.4 580.5,551.2 581.0,557.0 581.5,554.0 582.0,553.4 582.5,559.1 583.0,563.7 583.5,561.9 584.0,554.9 584.5,554.8 585.0,552.8 585.5,554.1 586.0,556.8 586.5,558.0 587.0,554.7 587.5,556.3 588.0,552.0 588.5,554.3 589.0,561.1 589.5,561.3 590.0,558.1 590.5,556.6 591.0,557.0 591.5,553.7 592.0,551.9 592.5,558.1 593.0,552.1 593.5,557.7 594.0,551.9 594.5,555.9 595.0,562.2 595.5,558.3 596.0,555.8 596.5,557.1 597.0,550.5 597.5,559.6 598.0,553.3 598.5,553.1 599.0,553.5 599.5,556.3 600.0,553.5 600.5,553.7 601.0,557.7 601.5,556.7 602.0,560.6 602.5,559.0 603.0,560.5 603.5,551.9 604.0,556.4 604.5,558.0 605.0,559.3 605.5,554.9 606.0,558.3 606.5,560.1 607.0,552.7 607.5,553.0 608.0,553.1 608.5,556.9 609.0,552.0 609.5,556.1 610.0,554.4 610.5,552.4 611.0,549.5 611.5,564.3 612.0,560.6 612.5,559.9 613.0,550.3 613.5,559.2 614.0,554.8 614.5,551.5 615.0,554.0 615.5,554.3 616.0,561.9 616.5,556.6 617.0,555.9 617.5,557.7 618.0,557.8 618.5,551.5 619.0,560.3 619.5,556.9 620.0,559.7 620.5,562.2 621.0,554.9 621.5,564.5 622.0,554.9 622.5,555.1 623.0,548.1 623.5,561.1 624.0,555.4 624.5,554.0 625.0,554.1 625.5,558.1 626.0,560.0 626.5,558.7 627.0,555.1 627.5,553.6 628.0,549.2 628.5,553.7 629.0,557.7 629.5,554.6 630.0,563.1 630.5,559.6 631.0,555.0 631.5,557.9 632.0,556.9 632.5,553.3 633.0,554.9 633.5,550.6 634.0,554.9 634.5,559.9 635.0,554.4 635.5,562.3 636.0,555.4 636.5,558.8 637.0,557.8 637.5,553.7 638.0,552.0 638.5,557.7 639.0,559.0 639.5,556.0 640.0,555.6 640.5,545.9 641.0,553.8 641.5,559.4 642.0,559.9 642.5,557.5 643.0,553.3 643.5,559.3 644.0,555.1 644.5,559.0 645.0,561.3 645.5,552.8 646.0,555.1 646.5,557.1 647.0,557.5 647.5,556.5 648.0,559.2 648.5,559.5 649.0,554.1 649.5,555.7 650.0,559.9 650.5,552.3 651.0,554.1 651.5,548.6 652.0,553.0 652.5,563.2 653.0,563.8 653.5,554.8 654.0,562.7 654.5,558.0 655.0,557.7 655.5,555.8 656.0,560.4 656.5,551.0 657.0,561.5 657.5,557.1 658.0,556.4 658.5,550.0 659.0,564.9 659.5,559.4 660.0,557.4 660.5,556.7 661.0,559.9 661.5,554.7 662.0,557.6 662.5,559.2 663.0,554.0 663.5,554.0 664.0,560.6 664.5,553.2 665.0,553.4 665.5,558.3 666.0,563.9 666.5,563.0 667.0,553.0 667.5,563.9 668.0,551.7 668.5,554.9 669.0,557.9 669.5,559.8 670.0,559.2 670.5,558.3 671.0,549.8 671.5,550.6 672.0,556.4 672.5,558.2 673.0,556.5 673.5,554.1 674.0,557.4 674.5,559.9 675.0,545.8 675.5,561.0 676.0,562.7" fill="none" stroke="#6e65c0" stroke-width="1.0" stroke-linejoin="round" />
<polyline points="572.0,558.9 572.5,554.1 573.0,556.5 573.5,556.6 574.0,563.9 574.5,557.7 575.0,559.4 575.5,560.0 576.0,557.0 576.5,554.2 577.0,550.4 577.5,554.0 578.0,559.2 578.5,559.4 579.0,549.4 579.5,554.9 580.0,556.4 580.5,559.1 581.0,554.8 581.5,554.9 582.0,556.2 582.5,557.7 583.0,556.2 583.5,553.3 584.0,555.2 584.5,556.5 585.0,554.1 585.5,555.6 586.0,555.4 586.5,550.6 587.0,562.6 587.5,555.9 588.0,559.1 588.5,563.2 589.0,557.4 589.5,553.3 590.0,556.1 590.5,553.4 591.0,554.9 591.5,558.9 592.0,553.5 592.5,558.3 593.0,557.0 593.5,561.8 594.0,558.0 594.5,559.3 595.0,558.5 595.5,554.7 596.0,555.1 596.5,552.8 597.0,552.1 597.5,563.7 598.0,552.5 598.5,560.4 599.0,555.4 599.5,552.2 600.0,556.3 600.5,559.3 601.0,559.6 601.5,560.3 602.0,556.0 602.5,557.7 603.0,553.8 603.5,553.3 604.0,558.7 604.5,559.4 605.0,555.4 605.5,556.1 606.0,554.0 606.5,556.2 607.0,551.9 607.5,556.7 608.0,556.0 608.5,555.5 609.0,563.5 609.5,553.3 610.0,557.1 610.5,558.6 611.0,553.2 611.5,559.3 612.0,552.9 612.5,557.5 613.0,556.6 613.5,561.4 614.0,550.1 614.5,561.6 615.0,566.1 615.5,558.3 616.0,552.2 616.5,556.6 617.0,551.6 617.5,558.9 618.0,556.6 618.5,551.9 619.0,562.4 619.5,555.2 620.0,561.5 620.5,554.8 621.0,554.7 621.5,551.6 622.0,557.2 622.5,555.5 623.0,552.7 623.5,562.5 624.0,555.5 624.5,563.3 625.0,557.2 625.5,549.4 626.0,550.5 626.5,556.8 627.0,562.1 627.5,555.2 628.0,552.4 628.5,553.0 629.0,559.9 629.5,561.4 630.0,555.3 630.5,552.6 631.0,551.7 631.5,558.6 632.0,552.0 632.5,555.8 633.0,555.0 633.5,562.1 634.0,549.1 634.5,551.8 635.0,553.8 635.5,560.3 636.0,554.1 636.5,559.5 637.0,553.2 637.5,548.7 638.0,552.6 638.5,560.3 639.0,553.8 639.5,551.6 640.0,554.8 640.5,552.6 641.0,556.7 641.5,556.4 642.0,558.9 642.5,557.5 643.0,564.5 643.5,549.9 644.0,560.1 644.5,544.2 645.0,558.2 645.5,553.3 646.0,554.2 646.5,553.5 647.0,557.3 647.5,554.6 648.0,558.6 648.5,555.4 649.0,559.5 649.5,564.6 650.0,557.4 650.5,557.2 651.0,552.9 651.5,556.6 652.0,555.0 652.5,552.4 653.0,552.8 653.5,563.4 654.0,549.2 654.5,550.7 655.0,551.7 655.5,555.5 656.0,554.5 656.5,557.4 657.0,557.1 657.5,556.1 658.0,551.9 658.5,553.5 659.0,559.4 659.5,559.8 660.0,554.5 660.5,557.7 661.0,553.0 661.5,552.5 662.0,550.8 662.5,559.2 663.0,563.2 663.5,556.7 664.0,558.0 664.5,558.6 665.0,555.5 665.5,548.3 666.0,559.7 666.5,557.4 667.0,561.1 667.5,555.7 668.0,554.6 668.5,563.7 669.0,562.7 669.5,558.5 670.0,551.3 670.5,553.2 671.0,552.9 671.5,556.7 672.0,555.6 672.5,555.4 673.0,558.9 673.5,550.6 674.0,549.4 674.5,556.0 675.0,557.7 675.5,556.3 676.0,563.1" fill="none" stroke="#6e65c0" stroke-width="1.0" stroke-linejoin="round" />
<text x="0" y="0" font-size="25" font-weight="bold" fill="#111" transform="translate(6.3,28.0) scale(0.9,1)">a</text>
<text x="6.0" y="285.4" font-size="25" text-anchor="start" fill="#111" font-weight="bold" >b</text>
<text x="6.2" y="445.4" font-size="25" text-anchor="start" fill="#111" font-weight="bold" >c</text>
<line x1="116.30" y1="42.10" x2="116.30" y2="219.30" stroke="#cfcfcf" stroke-width="1" />
<line x1="132.85" y1="42.10" x2="132.85" y2="219.30" stroke="#cfcfcf" stroke-width="1" />
<line x1="144.59" y1="42.10" x2="144.59" y2="219.30" stroke="#cfcfcf" stroke-width="1" />
<line x1="153.70" y1="42.10" x2="153.70" y2="219.30" stroke="#cfcfcf" stroke-width="1" />
<line x1="161.15" y1="42.10" x2="161.15" y2="219.30" stroke="#cfcfcf" stroke-width="1" />
<line x1="167.44" y1="42.10" x2="167.44" y2="219.30" stroke="#cfcfcf" stroke-width="1" />
<line x1="172.89" y1="42.10" x2="172.89" y2="219.30" stroke="#cfcfcf" stroke-width="1" />
<line x1="177.70" y1="42.10" x2="177.70" y2="219.30" stroke="#cfcfcf" stroke-width="1" />
<line x1="182.00" y1="42.10" x2="182.00" y2="219.30" stroke="#cfcfcf" stroke-width="1" />
<line x1="210.30" y1="42.10" x2="210.30" y2="219.30" stroke="#cfcfcf" stroke-width="1" />
<line x1="226.85" y1="42.10" x2="226.85" y2="219.30" stroke="#cfcfcf" stroke-width="1" />
<line x1="238.59" y1="42.10" x2="238.59" y2="219.30" stroke="#cfcfcf" stroke-width="1" />
<line x1="247.70" y1="42.10" x2="247.70" y2="219.30" stroke="#cfcfcf" stroke-width="1" />
<line x1="255.15" y1="42.10" x2="255.15" y2="219.30" stroke="#cfcfcf" stroke-width="1" />
<line x1="261.44" y1="42.10" x2="261.44" y2="219.30" stroke="#cfcfcf" stroke-width="1" />
<line x1="266.89" y1="42.10" x2="266.89" y2="219.30" stroke="#cfcfcf" stroke-width="1" />
<line x1="271.70" y1="42.10" x2="271.70" y2="219.30" stroke="#cfcfcf" stroke-width="1" />
<line x1="276.00" y1="42.10" x2="276.00" y2="219.30" stroke="#cfcfcf" stroke-width="1" />
<polyline points="162.0,140.6 165.0,137.7 168.0,137.8 171.9,130.0 174.6,127.0 177.1,127.9 181.2,119.6 183.9,113.0 188.1,112.1 191.6,105.9 194.0,103.6 198.4,102.0 201.1,99.6 205.3,93.8 208.3,86.4 210.8,84.4 212.9,87.1 215.6,77.8 218.4,79.2 221.5,75.7 224.1,71.8 226.9,67.2 229.2,70.0 233.1,67.2 235.9,70.1 238.0,64.0 242.4,63.0 244.5,73.0 248.4,70.6" fill="none" stroke="#d0d0d0" stroke-width="1.3" stroke-linejoin="round" />
<polyline points="163.0,144.1 165.5,139.0 168.4,139.1 170.5,135.9 174.4,128.4 176.7,129.8 179.2,125.0 181.6,120.7 183.7,116.9 188.2,115.9 192.1,102.5 195.3,105.3 197.4,101.0 201.6,99.3 203.7,95.3 206.2,93.0 208.6,95.2 212.0,88.2 216.3,78.0 220.1,74.9 222.6,77.0 227.0,67.4 231.0,61.8 234.3,60.5 236.9,62.8 239.1,62.5 242.8,63.3 245.1,61.5" fill="none" stroke="#c2c2c2" stroke-width="1.3" stroke-linejoin="round" />
<polyline points="165.0,151.0 168.4,144.6 171.0,147.3 173.0,139.7 177.0,134.6 180.4,130.4 184.1,121.6 188.0,116.1 190.1,119.9 193.3,114.6 195.7,106.3 199.0,109.9 203.0,102.4 206.0,96.3 208.6,85.7 210.8,92.2 215.0,81.3 219.2,79.0 223.4,75.8 227.5,73.8 229.9,71.6 232.2,72.1 235.6,70.3 237.6,74.3 240.8,69.8 243.0,75.9 245.9,66.2" fill="none" stroke="#b0b0b0" stroke-width="1.4" stroke-linejoin="round" />
<polyline points="164.0,147.0 166.8,147.6 171.1,137.8 175.0,132.4 177.4,131.9 181.0,127.6 183.4,124.5 187.7,116.1 190.5,113.9 193.5,112.4 197.2,105.3 199.2,110.0 203.3,100.0 207.7,94.8 210.9,83.3 214.8,85.1 218.5,77.2 222.0,75.8 226.3,69.0 230.6,65.9 233.1,68.6 237.6,65.0 240.6,64.6 243.7,66.1 247.0,63.4 249.9,65.2" fill="none" stroke="#a4a4a4" stroke-width="1.4" stroke-linejoin="round" />
<polyline points="166.0,156.1 170.5,146.9 173.3,141.7 175.8,141.6 179.8,132.5 182.5,129.2 186.5,121.1 190.9,116.3 193.3,113.9 196.1,110.3 200.5,102.4 204.3,98.2 208.7,95.8 212.1,86.9 215.5,82.6 219.6,78.9 222.0,77.9 225.0,73.2 227.8,77.4 229.9,75.8 234.3,77.0 238.4,74.7 241.8,76.5" fill="none" stroke="#8e8e8e" stroke-width="1.4" stroke-linejoin="round" />
<polyline points="168.0,153.7 171.8,149.9 174.7,143.3 178.2,138.5 182.5,128.5 186.7,123.4 190.3,118.9 193.9,112.1 197.5,106.5 201.7,107.5 205.4,97.2 208.7,96.2 210.9,90.0 214.3,84.7 216.8,87.0 221.0,78.8 225.5,76.6 227.5,76.1 231.0,78.4 233.1,78.2 236.0,75.9 240.1,79.9 243.6,78.4" fill="none" stroke="#7a7a7a" stroke-width="1.5" stroke-linejoin="round" />
<polyline points="171.0,140.7 173.7,135.3 177.5,130.6 179.6,134.1 182.2,126.1 185.8,122.7 189.4,116.7 191.4,114.0 195.7,111.6 197.9,107.3 200.2,104.3 203.8,100.5 206.1,93.7 210.6,90.4 214.7,89.4 217.5,77.8 221.7,80.3 224.2,74.9 228.1,75.5 230.2,75.6 234.6,72.8 239.1,75.2 243.5,73.1 247.9,75.5" fill="none" stroke="#5e5e5e" stroke-width="1.5" stroke-linejoin="round" />
<polyline points="161.0,136.2 163.3,136.6 166.5,129.7 169.4,129.4 173.3,126.9 175.8,123.0 178.3,118.3 181.2,115.3 183.7,110.0 186.2,113.2 190.3,106.4 193.5,105.8 197.3,98.5 200.3,94.0 203.4,93.5 207.3,88.5 209.6,85.4 213.9,75.5 217.2,80.0 220.7,72.0 222.7,72.2 225.1,72.9 227.8,71.1 231.4,71.8 235.1,68.6" fill="none" stroke="#d8d8d8" stroke-width="1.2" stroke-linejoin="round" />
<polyline points="161.5,175.0 163.6,152.0 166.3,115.4 167.7,133.0 170.0,126.0" fill="none" stroke="#d4d4d4" stroke-width="1.3" stroke-linejoin="round" />
<polyline points="166.3,139.8 171.7,129.0 178.5,112.7 185.3,107.2 192.1,100.4 196.9,97.7 203.0,92.0" fill="none" stroke="#cfcfcf" stroke-width="1.3" stroke-linejoin="round" />
<polyline points="163.0,150.0 167.7,134.4 171.7,118.8 177.2,120.1 172.4,141.2 181.2,127.6 186.7,112.7 190.7,108.6 197.0,101.0" fill="none" stroke="#767676" stroke-width="1.4" stroke-linejoin="round" />
<polyline points="182.0,137.0 186.7,127.6 189.4,122.2 193.5,122.8 197.5,105.9 201.6,103.1" fill="none" stroke="#9a9a9a" stroke-width="1.4" stroke-linejoin="round" />
<line x1="105.00" y1="219.30" x2="246.00" y2="43.60" stroke="#e3202d" stroke-width="2" />
<line x1="88.00" y1="43.60" x2="88.00" y2="219.30" stroke="#7a7a7a" stroke-width="2" />
<line x1="87.00" y1="219.30" x2="276.00" y2="219.30" stroke="#7a7a7a" stroke-width="2" />
<line x1="84.00" y1="43.60" x2="88.00" y2="43.60" stroke="#333" stroke-width="1" />
<line x1="84.00" y1="102.17" x2="88.00" y2="102.17" stroke="#333" stroke-width="1" />
<line x1="84.00" y1="160.73" x2="88.00" y2="160.73" stroke="#333" stroke-width="1" />
<line x1="84.00" y1="219.30" x2="88.00" y2="219.30" stroke="#333" stroke-width="1" />
<line x1="88.00" y1="219.30" x2="88.00" y2="223.30" stroke="#333" stroke-width="1" />
<line x1="182.00" y1="219.30" x2="182.00" y2="223.30" stroke="#333" stroke-width="1" />
<line x1="276.00" y1="219.30" x2="276.00" y2="223.30" stroke="#333" stroke-width="1" />
<text x="81.2" y="47.9" font-size="12.2" text-anchor="end" fill="#333" font-weight="normal" >10</text>
<text x="81.2" y="106.5" font-size="12.2" text-anchor="end" fill="#333" font-weight="normal" >1</text>
<text x="81.2" y="165.0" font-size="12.2" text-anchor="end" fill="#333" font-weight="normal" >0.1</text>
<text x="81.2" y="223.6" font-size="12.2" text-anchor="end" fill="#333" font-weight="normal" >0.01</text>
<text x="88.0" y="237.8" font-size="12.2" text-anchor="middle" fill="#333" font-weight="normal" >0.01</text>
<text x="182.0" y="237.8" font-size="12.2" text-anchor="middle" fill="#333" font-weight="normal" >0.1</text>
<text x="276.0" y="237.8" font-size="12.2" text-anchor="middle" fill="#333" font-weight="normal" >1</text>
<text x="182.0" y="254.2" font-size="12.6" text-anchor="middle" fill="#333" font-weight="normal" >Relative laser power</text>
<text x="0" y="0" font-size="12.6" text-anchor="middle" fill="#333" transform="translate(51.6,131.5) rotate(-90)">Normalized area (AU)</text>
<text x="182.0" y="15.9" font-size="13.8" text-anchor="middle" fill="#333" font-weight="normal" >PtP-C343 (~10 μM)</text>
<text x="182.0" y="32.6" font-size="13.8" text-anchor="middle" fill="#333" font-weight="normal" >1% duty cycle</text>
<line x1="431.50" y1="40.80" x2="431.50" y2="219.90" stroke="#cfcfcf" stroke-width="1" />
<line x1="448.05" y1="40.80" x2="448.05" y2="219.90" stroke="#cfcfcf" stroke-width="1" />
<line x1="459.79" y1="40.80" x2="459.79" y2="219.90" stroke="#cfcfcf" stroke-width="1" />
<line x1="468.90" y1="40.80" x2="468.90" y2="219.90" stroke="#cfcfcf" stroke-width="1" />
<line x1="476.35" y1="40.80" x2="476.35" y2="219.90" stroke="#cfcfcf" stroke-width="1" />
<line x1="482.64" y1="40.80" x2="482.64" y2="219.90" stroke="#cfcfcf" stroke-width="1" />
<line x1="488.09" y1="40.80" x2="488.09" y2="219.90" stroke="#cfcfcf" stroke-width="1" />
<line x1="492.90" y1="40.80" x2="492.90" y2="219.90" stroke="#cfcfcf" stroke-width="1" />
<line x1="497.20" y1="40.80" x2="497.20" y2="219.90" stroke="#cfcfcf" stroke-width="1" />
<line x1="525.50" y1="40.80" x2="525.50" y2="219.90" stroke="#cfcfcf" stroke-width="1" />
<line x1="542.05" y1="40.80" x2="542.05" y2="219.90" stroke="#cfcfcf" stroke-width="1" />
<line x1="553.79" y1="40.80" x2="553.79" y2="219.90" stroke="#cfcfcf" stroke-width="1" />
<line x1="562.90" y1="40.80" x2="562.90" y2="219.90" stroke="#cfcfcf" stroke-width="1" />
<line x1="570.35" y1="40.80" x2="570.35" y2="219.90" stroke="#cfcfcf" stroke-width="1" />
<line x1="576.64" y1="40.80" x2="576.64" y2="219.90" stroke="#cfcfcf" stroke-width="1" />
<line x1="582.09" y1="40.80" x2="582.09" y2="219.90" stroke="#cfcfcf" stroke-width="1" />
<line x1="586.90" y1="40.80" x2="586.90" y2="219.90" stroke="#cfcfcf" stroke-width="1" />
<line x1="591.20" y1="40.80" x2="591.20" y2="219.90" stroke="#cfcfcf" stroke-width="1" />
<polyline points="462.0,144.4 464.7,140.7 467.6,137.3 469.1,134.5 471.3,133.2 474.2,130.2 475.9,128.3 478.2,126.3 480.5,124.6 482.5,123.4 485.3,121.4 488.0,119.3 489.7,118.0 491.2,116.9 494.1,115.1 497.0,113.3 499.8,110.6 502.1,109.9 504.7,107.9 507.2,106.4 510.1,103.4 512.2,100.8 513.9,99.4 515.9,98.2 518.3,97.4 520.3,95.9 522.3,94.6 524.2,92.5 526.5,90.8 529.4,88.5 531.0,87.3 532.5,85.2 535.2,82.9 536.7,82.5 538.3,82.0 540.0,81.8 542.7,80.3 544.7,77.7 546.7,74.9 548.4,73.3 551.0,71.1 552.6,68.7 555.5,66.5 557.9,64.6 560.8,61.3 563.1,60.2 565.1,58.3 566.7,57.0 568.4,54.8 570.1,51.7 571.7,51.1 573.8,49.3 575.7,46.9 577.9,44.6 580.0,44.0 581.6,43.2" fill="none" stroke="#8f8f8f" stroke-width="1.8" stroke-linejoin="round" />
<polyline points="466.0,142.4 468.6,139.1 471.5,135.3 473.2,133.1 475.3,131.7 477.3,130.6 479.5,129.3 482.4,126.9 484.6,124.4 486.8,122.9 488.8,121.3 490.8,120.0 493.8,118.5 496.1,116.6 498.1,115.3 500.7,113.1 503.5,109.9 506.2,108.1 508.7,105.0 510.8,102.2 513.3,99.8 516.0,98.9 518.5,97.1 521.0,96.8 523.4,95.7 525.3,94.3 527.8,91.4 530.2,89.8 532.9,87.4 535.5,86.2 538.3,83.6 541.1,82.2 543.6,81.1 545.9,78.7 548.2,76.9 551.1,74.9 553.3,72.2 555.9,68.9 557.7,67.3 560.2,64.2 562.3,61.7 564.7,59.0 567.3,57.2 569.5,55.4 572.0,53.4 574.4,51.9 576.0,50.1 577.6,48.7" fill="none" stroke="#9c9c9c" stroke-width="1.6" stroke-linejoin="round" />
<polyline points="463.0,146.6 464.8,144.8 466.3,142.5 468.8,139.8 471.1,137.3 472.6,136.9 474.8,134.5 476.4,133.2 479.2,130.2 481.6,128.2 483.2,126.5 485.6,124.7 488.5,122.8 491.3,120.4 493.7,118.5 496.1,117.0 498.5,116.4 500.9,113.8 502.9,111.9 504.6,110.3 506.9,107.8 509.4,105.1 512.2,101.9 514.0,100.9 516.0,100.3 518.9,98.5 521.8,96.3 524.8,94.1 527.0,92.4 530.0,91.0 532.2,89.6 533.9,89.2 536.3,87.3 539.0,85.9 541.7,87.1 543.7,88.1 546.6,89.0 548.5,88.3 550.2,88.0 552.6,85.7 554.8,82.3 557.4,77.2 559.1,73.9 561.4,68.6 563.4,66.1 565.6,65.2 567.7,63.6 569.2,61.7 571.1,59.3 573.9,57.6 576.2,56.8 578.4,55.2 580.7,53.2 583.0,51.6 585.8,50.3 588.6,53.4 590.4,63.3" fill="none" stroke="#6e6e6e" stroke-width="1.5" stroke-linejoin="round" />
<polyline points="470.0,140.4 472.8,137.3 474.7,134.8 477.4,132.4 479.6,130.0 481.9,127.8 483.6,126.6 486.0,125.1 487.9,123.6 490.6,122.0 492.1,120.2 494.7,120.2 497.3,118.0 498.8,116.7 501.3,114.1 504.2,111.4 506.2,109.3 509.0,106.8 511.2,105.2 512.9,103.2 514.6,102.0 516.6,100.9 519.0,99.6 521.6,98.3 523.8,96.9 525.7,95.4 528.6,93.4 530.7,93.1 532.4,92.3 534.9,89.7 537.2,88.5 539.6,87.2 541.5,86.6 544.1,84.4 546.0,83.0 548.1,81.5 550.6,79.3 553.1,78.1 554.7,77.1 556.4,75.4 559.2,73.1 561.5,71.0 563.0,70.7 565.6,68.9 568.5,66.8 571.0,64.8 574.0,62.7 576.5,60.8 578.9,58.6 581.0,57.0 583.4,56.6 585.4,55.6 588.2,54.7" fill="none" stroke="#7d7d7d" stroke-width="1.5" stroke-linejoin="round" />
<line x1="420.20" y1="219.90" x2="561.20" y2="42.30" stroke="#e3202d" stroke-width="2" />
<line x1="400.90" y1="42.30" x2="400.90" y2="218.30" stroke="#7a7a7a" stroke-width="2" />
<line x1="403.20" y1="219.90" x2="591.20" y2="219.90" stroke="#7a7a7a" stroke-width="2" />
<line x1="396.90" y1="42.30" x2="400.90" y2="42.30" stroke="#333" stroke-width="1" />
<line x1="396.90" y1="100.97" x2="400.90" y2="100.97" stroke="#333" stroke-width="1" />
<line x1="396.90" y1="159.63" x2="400.90" y2="159.63" stroke="#333" stroke-width="1" />
<line x1="396.90" y1="218.30" x2="400.90" y2="218.30" stroke="#333" stroke-width="1" />
<line x1="403.20" y1="219.90" x2="403.20" y2="223.90" stroke="#333" stroke-width="1" />
<line x1="497.20" y1="219.90" x2="497.20" y2="223.90" stroke="#333" stroke-width="1" />
<line x1="591.20" y1="219.90" x2="591.20" y2="223.90" stroke="#333" stroke-width="1" />
<text x="391.3" y="46.6" font-size="12.2" text-anchor="end" fill="#333" font-weight="normal" >10</text>
<text x="391.3" y="105.3" font-size="12.2" text-anchor="end" fill="#333" font-weight="normal" >1</text>
<text x="391.3" y="163.9" font-size="12.2" text-anchor="end" fill="#333" font-weight="normal" >0.1</text>
<text x="391.3" y="222.6" font-size="12.2" text-anchor="end" fill="#333" font-weight="normal" >0.01</text>
<text x="403.2" y="237.8" font-size="12.2" text-anchor="middle" fill="#333" font-weight="normal" >0.01</text>
<text x="497.2" y="237.8" font-size="12.2" text-anchor="middle" fill="#333" font-weight="normal" >0.1</text>
<text x="591.2" y="237.8" font-size="12.2" text-anchor="middle" fill="#333" font-weight="normal" >1</text>
<text x="497.2" y="254.2" font-size="12.6" text-anchor="middle" fill="#333" font-weight="normal" >Relative laser power</text>
<text x="0" y="0" font-size="11.2" text-anchor="middle" fill="#333" transform="translate(364.4,130.9) rotate(-90)">Normalized area (AU)</text>
<text x="497.2" y="16.0" font-size="12.9" text-anchor="middle" fill="#333" font-weight="normal" >PtP-C343 (~50 μM)</text>
<text x="497.2" y="30.8" font-size="12.9" text-anchor="middle" fill="#333" font-weight="normal" >10% duty cycle</text>
<text x="186.4" y="197.8" font-size="12.8" text-anchor="middle" fill="#e3202d" font-weight="normal" >Quadratic regime</text>
<text x="497.7" y="204.2" font-size="11.2" text-anchor="middle" fill="#e3202d" font-weight="normal" >Quadratic regime</text>
<polyline points="174.0,154.0 186.3,163.0 243.3,96.5 231.5,86.3" fill="none" stroke="#222" stroke-width="1.3" stroke-linejoin="round" />
<line x1="256.40" y1="163.00" x2="221.00" y2="134.50" stroke="#222" stroke-width="1.2" />
<polygon points="218.0,131.8 224.6,134.0 221.3,137.7" fill="#222"/>
<polyline points="54.0,300.5 55.2,308.0 56.1,309.0 56.6,308.0 57.9,305.1 58.8,304.7 59.6,310.6 60.5,309.1 61.8,304.8 62.5,308.2 63.3,307.1 64.5,311.5 65.5,311.6 66.7,312.6 67.3,313.7 67.9,312.2 68.7,315.6 69.5,310.7 70.5,312.6 71.6,312.4 72.5,314.4 73.7,317.5 74.4,316.2 75.4,316.8 76.4,318.0 77.1,316.8 77.8,319.9 78.7,316.4 79.4,315.9 80.0,317.0 81.2,318.7 81.8,319.7 83.1,319.9 83.8,322.0 85.0,324.5 85.8,323.9 86.9,323.6 87.8,326.2 89.0,326.1 89.8,325.1 90.8,325.8 91.8,324.2 92.8,325.2 93.6,326.0 94.5,324.4 95.4,325.4 96.6,322.6 97.4,321.0 98.3,321.8 98.9,320.7 99.8,321.3 100.6,321.3 101.2,322.4 102.3,321.0 102.9,321.2 103.7,321.5 104.7,322.4 105.9,321.4 107.1,322.9 108.4,321.7 109.5,319.3 110.7,320.9 111.9,320.7 112.9,320.6 113.4,318.9 114.0,321.8 115.0,321.9 115.7,323.6 116.6,322.3 117.8,324.4 118.7,324.1 119.6,323.9 120.7,323.6 121.7,323.7 122.5,325.4 123.4,326.5 124.0,324.7 125.0,324.5 126.1,323.4 127.0,322.4 127.6,323.6 128.8,321.6 129.9,319.5 130.6,319.4 131.6,320.9 132.7,321.6 133.4,321.8 134.3,322.3 134.8,322.7 135.8,320.8 137.0,320.2 137.9,320.3 138.7,322.5 139.4,322.1 140.0,323.3 141.0,322.3 141.9,320.1 143.0,319.4 144.2,320.8 145.2,321.2 146.0,318.8" fill="none" stroke="#6b6b6b" stroke-width="1.1" stroke-linejoin="round" />
<polyline points="54.0,326.7 54.8,326.2 56.0,326.0 57.1,324.7 57.9,326.6 59.1,325.0 60.3,328.5 60.9,324.2 61.5,323.7 62.4,323.2 63.3,324.8 64.0,321.4 64.7,319.9 65.3,318.9 66.4,318.1 67.6,320.4 68.8,320.8 70.0,318.3 71.0,318.4 71.9,319.9 72.7,321.9 73.4,321.8 74.7,320.5 75.3,322.8 76.1,323.3 77.1,322.1 77.8,322.6 78.9,321.0 79.9,319.5 80.5,321.5 81.3,322.2 82.0,321.6 83.1,322.5 83.8,323.0 84.8,324.2 85.7,323.0 86.3,324.4 86.9,324.7 88.0,323.5 89.0,324.9 89.7,324.7 90.8,325.1 92.0,325.7 92.8,324.0 94.0,324.7 94.8,324.9 95.4,324.2 96.4,322.1 97.5,323.8 98.4,323.1 99.5,322.9 100.6,325.3 101.2,325.6 102.3,323.2 103.2,322.1 103.9,322.9 105.0,323.4 105.8,324.0 107.0,326.7 107.9,326.9 108.8,326.6 110.0,325.0 110.8,323.6 111.5,324.9 112.0,323.9 113.2,323.3 113.9,323.2 114.6,322.3 115.3,322.2 116.2,323.0 117.1,321.0 117.8,322.8 118.7,323.5 120.0,323.0 120.8,323.2 121.7,323.1 122.9,323.0 124.1,321.6 124.6,321.8 125.8,323.3 126.6,322.6 127.6,323.5 128.8,324.8 129.5,322.8 130.2,324.4 130.9,323.5 131.5,322.8 132.8,322.4 133.8,319.2 134.7,320.7 135.6,321.0 136.5,320.8 137.2,319.9 138.0,321.3 139.1,322.5 139.7,321.5 140.9,321.4 141.5,321.8 142.7,321.9 143.7,321.2 144.5,319.9 145.6,321.9 146.1,321.1" fill="none" stroke="#6b6b6b" stroke-width="1.1" stroke-linejoin="round" />
<polyline points="54.0,328.0 55.1,329.8 56.0,331.8 56.6,327.3 57.8,322.4 58.7,323.3 59.8,318.9 60.6,320.3 61.8,317.6 62.7,316.6 63.6,316.6 64.4,319.6 65.0,315.8 65.5,318.7 66.3,322.0 67.1,319.9 67.9,318.4 68.9,318.4 69.6,315.8 70.6,320.2 71.5,321.5 72.5,320.1 73.7,318.8 74.6,320.0 75.8,319.3 76.9,321.5 77.6,322.6 78.2,323.1 79.2,323.2 80.0,321.9 81.2,322.8 82.0,323.3 83.2,325.9 83.8,324.9 84.6,324.2 85.8,322.1 86.3,325.2 87.0,324.7 87.7,321.8 88.9,321.0 89.5,323.4 90.2,323.4 90.8,322.9 92.0,321.1 93.2,321.4 93.8,321.7 94.5,323.9 95.3,323.6 96.0,324.5 96.8,324.2 97.7,323.9 98.6,324.4 99.4,325.2 100.1,326.4 100.6,324.4 101.4,322.9 102.4,323.6 103.5,324.2 104.4,323.0 105.5,321.9 106.6,323.5 107.3,324.6 107.8,324.0 108.7,323.9 109.6,323.5 110.3,323.8 111.2,324.0 111.9,322.9 112.8,322.5 113.3,321.8 114.4,323.4 114.9,321.2 115.5,320.5 116.7,321.5 117.4,322.2 118.2,322.5 119.5,323.1 120.1,322.5 121.3,322.9 122.6,322.8 123.1,324.8 124.3,324.8 125.5,324.5 126.1,324.8 126.8,327.4 127.5,329.0 128.2,328.4 129.2,327.8 129.9,326.5 131.0,323.8 131.7,323.2 132.9,323.3 134.1,322.0 135.0,322.1 135.6,323.5 136.4,322.3 137.1,322.4 137.7,323.8 138.5,324.3 139.2,324.5 140.2,324.6 141.4,325.1 142.5,324.8 143.6,324.1 144.4,325.0 145.2,323.8 146.1,322.9 146.7,323.0" fill="none" stroke="#6b6b6b" stroke-width="1.1" stroke-linejoin="round" />
<polyline points="54.0,328.2 54.8,324.6 55.6,328.7 56.3,328.6 57.1,328.2 57.7,325.1 59.0,325.2 60.0,323.5 60.8,325.0 62.0,324.8 62.9,324.9 63.5,322.2 64.2,323.3 65.1,326.5 66.1,324.4 66.8,327.1 67.9,325.0 68.5,324.9 69.4,326.4 70.1,325.9 70.8,325.1 71.3,325.6 72.2,321.7 73.3,322.6 74.2,323.4 75.3,322.5 76.4,323.8 77.4,323.1 78.5,324.0 79.2,324.2 80.4,326.4 81.4,322.9 82.6,323.3 83.4,324.9 83.9,326.3 84.7,325.1 85.9,327.9 87.1,326.7 88.0,325.8 89.3,325.2 89.9,325.7 90.8,325.6 91.7,325.5 92.9,328.6 93.5,326.3 94.4,323.8 95.2,325.0 95.9,327.3 97.2,327.6 97.7,327.7 98.3,326.3 98.8,327.4 99.3,328.1 100.1,327.6 101.2,327.1 102.2,326.5 102.8,325.4 103.8,325.9 104.8,326.3 105.3,325.7 106.0,325.6 106.6,324.0 107.4,323.6 108.3,324.2 109.5,321.7 110.3,322.6 111.1,321.3 112.4,321.0 113.1,322.4 114.1,321.7 115.3,322.2 115.9,323.7 116.8,323.5 117.7,324.6 118.3,325.3 119.5,325.3 120.7,328.1 121.5,328.3 122.8,328.5 124.0,327.9 124.9,328.2 125.6,327.5 126.5,325.9 127.1,325.1 127.9,326.3 128.9,326.8 129.5,326.1 130.6,327.3 131.3,328.8 131.9,327.3 132.8,325.1 133.7,325.9 134.4,326.8 135.1,326.1 135.9,326.1 136.7,325.7 137.7,324.6 138.3,325.6 139.5,326.2 140.2,326.3 141.2,324.9 142.2,325.0 143.0,324.9 143.8,325.0 145.0,325.8 145.9,326.5 146.6,328.0" fill="none" stroke="#6b6b6b" stroke-width="1.1" stroke-linejoin="round" />
<polyline points="54.0,328.4 54.7,319.6 55.8,325.7 56.7,321.9 57.6,328.6 58.8,332.6 60.0,331.1 60.8,327.2 61.5,327.0 62.3,329.6 62.9,329.1 64.1,331.0 64.7,330.3 65.8,330.9 66.8,330.1 67.6,327.8 68.2,326.9 68.9,327.6 69.6,328.4 70.2,330.0 71.4,332.4 72.7,332.0 73.3,331.1 74.2,329.7 74.9,329.3 75.8,328.8 76.3,328.7 77.5,329.2 78.4,328.2 79.1,328.2 80.0,328.4 81.1,329.2 82.0,328.7 82.8,328.6 83.9,329.4 84.4,330.4 85.2,329.3 86.1,329.0 87.0,328.3 87.7,329.7 88.9,330.2 90.1,330.5 90.9,330.0 92.0,329.2 92.9,328.0 94.0,329.3 95.0,328.8 95.6,329.6 96.7,329.7 97.4,329.3 98.0,329.5 98.6,328.0 99.5,327.4 100.7,326.3 101.5,326.5 102.7,326.6 103.5,327.5 104.5,328.0 105.1,328.5 106.1,331.7 107.0,330.0 107.7,329.3 108.6,330.3 109.7,327.4 110.6,327.5 111.3,327.7 112.0,329.3 112.9,329.3 114.2,327.2 114.8,325.7 115.8,328.0 117.0,328.7 118.2,329.5 119.0,329.1 119.9,328.5 120.7,330.4 121.5,328.2 122.6,329.7 123.7,329.3 124.4,329.2 125.2,328.4 126.2,328.9 127.1,328.9 128.4,327.5 129.6,325.0 130.3,325.3 131.3,327.4 132.3,326.8 133.2,326.0 134.0,327.3 135.0,326.5 136.0,327.2 136.6,329.5 137.8,329.5 139.0,329.6 140.0,328.3 141.2,328.2 141.8,326.9 142.3,328.5 143.3,327.2 143.8,327.8 144.6,327.9 145.1,328.9 145.9,328.6 146.6,327.9" fill="none" stroke="#6b6b6b" stroke-width="1.1" stroke-linejoin="round" />
<polyline points="54.0,328.7 54.7,325.5 55.8,329.0 56.9,328.5 57.8,327.8 58.6,329.6 59.4,328.0 60.5,330.3 61.6,334.1 62.5,334.3 63.4,332.2 64.0,335.1 65.2,333.6 66.5,332.6 67.5,330.6 68.3,329.9 69.5,330.0 70.2,331.5 71.1,331.9 72.3,331.2 72.9,332.2 73.5,331.5 74.3,330.7 75.4,329.9 76.6,330.6 77.2,330.1 78.2,328.4 79.1,327.9 79.8,328.1 80.7,327.5 81.7,328.9 82.5,328.1 83.3,327.7 84.5,327.3 85.7,327.7 86.7,325.5 87.4,324.8 88.3,324.6 89.1,324.0 90.1,325.9 90.9,325.5 91.8,325.5 92.5,323.5 93.4,324.7 94.6,323.6 95.5,323.5 96.1,323.1 97.2,324.4 98.3,325.3 99.0,326.2 99.9,328.7 101.1,325.7 102.1,327.1 102.7,327.9 104.0,328.1 105.1,331.2 106.3,331.6 107.1,330.9 107.7,332.2 108.8,330.4 109.5,332.4 110.2,331.1 111.0,330.7 111.7,327.9 112.6,328.6 113.7,328.2 114.6,328.8 115.4,329.2 116.4,327.8 117.6,328.1 118.6,330.2 119.8,330.3 121.1,330.4 121.7,330.2 122.8,331.4 123.8,333.0 124.4,332.4 124.9,330.4 125.8,331.3 126.6,329.2 127.6,328.8 128.4,329.3 129.2,329.5 130.1,328.5 131.4,326.6 132.3,326.5 133.4,328.4 134.2,329.0 135.0,327.6 135.8,328.7 136.7,328.9 137.5,329.7 138.2,330.5 139.0,333.0 140.1,331.1 140.6,330.9 141.3,328.9 142.0,328.4 142.9,327.6 144.0,328.1 144.9,329.1 146.2,329.8 146.9,328.3" fill="none" stroke="#6b6b6b" stroke-width="1.1" stroke-linejoin="round" />
<polyline points="54.0,345.2 55.0,333.2 55.8,342.2 57.0,339.8 57.8,337.0 58.9,338.2 59.6,336.8 60.6,335.5 61.7,333.5 62.3,337.2 63.0,334.1 64.2,331.6 65.2,333.1 65.9,334.8 66.9,330.7 67.9,330.3 68.6,331.1 69.6,328.2 70.7,329.3 71.5,328.2 72.0,328.2 73.0,326.6 73.7,325.7 74.3,325.7 75.0,327.7 75.8,326.7 76.6,326.4 77.1,323.4 77.8,324.1 78.6,327.2 79.5,327.8 80.3,329.3 81.2,329.0 81.8,329.4 82.9,326.8 84.0,328.3 85.1,329.4 86.3,329.3 86.9,330.6 87.6,327.7 88.9,328.4 89.7,327.9 90.6,329.4 91.6,329.8 92.8,330.1 93.5,329.3 94.0,329.9 95.1,327.3 96.1,326.1 97.1,327.0 97.6,327.9 98.3,327.1 99.0,326.4 100.0,328.2 100.9,327.9 101.6,327.4 102.3,328.6 102.9,330.2 104.1,331.0 104.9,332.0 105.4,331.5 105.9,330.3 106.7,331.1 107.6,330.3 108.5,330.6 109.7,330.0 110.5,331.1 111.6,330.8 112.2,329.7 113.0,331.8 114.1,330.7 114.9,330.8 115.5,328.9 116.3,329.5 117.2,328.8 117.8,329.6 119.0,330.8 119.6,331.1 120.4,329.9 121.1,329.5 122.2,328.1 123.3,327.7 124.3,330.3 125.5,329.6 126.8,329.5 127.6,328.1 128.7,327.6 129.7,327.0 130.8,326.5 131.5,327.3 132.4,327.9 133.1,326.0 134.1,325.3 135.2,327.0 136.0,326.3 136.9,326.4 138.0,327.7 138.5,329.5 139.6,329.3 140.1,330.2 141.3,330.7 141.9,329.9 142.5,329.4 143.1,328.2 143.9,331.0 144.8,329.9 145.9,331.1 146.7,332.1" fill="none" stroke="#6b6b6b" stroke-width="1.1" stroke-linejoin="round" />
<polyline points="54.0,335.3 54.6,331.0 55.3,326.4 56.4,336.7 57.3,325.4 57.8,328.6 58.4,326.1 59.5,324.9 60.2,326.8 61.1,327.2 61.6,328.0 62.5,327.1 63.1,329.3 63.6,326.6 64.3,325.9 65.1,324.0 65.7,326.4 66.7,327.6 67.2,325.5 68.1,323.4 68.9,323.3 69.9,326.2 70.8,326.4 71.4,326.2 72.2,323.4 73.2,327.1 74.3,328.0 75.5,328.5 76.3,328.4 77.1,330.3 77.9,328.2 78.6,328.7 79.4,328.5 80.4,326.5 81.1,327.0 81.9,327.1 83.0,328.1 84.1,328.2 85.2,329.5 86.1,328.2 86.8,328.3 88.0,326.4 88.6,327.2 89.2,326.6 90.4,329.4 91.4,330.3 92.3,330.4 93.3,331.4 93.9,330.0 94.5,329.7 95.5,328.2 96.2,327.3 96.8,327.8 97.5,328.5 98.4,328.5 99.1,327.7 100.0,327.5 101.3,325.2 102.5,324.7 103.6,324.1 104.3,324.6 105.2,323.8 106.2,325.9 107.1,326.5 108.1,325.3 108.8,326.3 109.3,325.1 110.5,325.6 111.1,325.7 111.9,325.8 112.5,326.1 113.1,328.5 113.8,328.2 114.7,329.5 115.7,329.2 116.3,329.9 117.0,328.0 118.1,329.2 118.6,327.6 119.4,327.9 120.1,327.8 120.8,327.6 121.6,328.3 122.1,328.2 122.8,328.2 123.6,328.5 124.7,327.7 125.6,329.3 126.5,328.5 127.4,329.2 128.4,330.6 129.4,330.5 130.4,328.9 131.6,327.6 132.3,329.4 133.4,327.5 133.9,327.6 135.0,326.2 136.1,325.6 137.0,325.7 138.2,326.4 139.0,326.4 139.8,324.6 140.8,326.0 141.5,327.0 142.5,326.9 143.0,327.0 144.0,326.2 145.1,324.2 145.7,326.0 146.8,328.2" fill="none" stroke="#6b6b6b" stroke-width="1.1" stroke-linejoin="round" />
<polyline points="54.0,321.4 54.6,314.6 55.8,325.4 57.0,319.9 58.1,324.4 58.6,323.0 59.5,324.4 60.5,321.8 61.6,325.6 62.2,327.5 62.7,325.1 63.4,327.3 64.4,330.2 65.4,328.8 66.0,328.2 67.0,329.5 68.2,332.0 69.1,334.9 70.0,338.1 71.2,337.9 72.3,337.9 73.5,337.1 74.7,334.9 75.7,335.9 76.7,333.7 77.5,334.6 78.0,334.6 78.7,333.4 79.3,333.5 80.4,334.8 81.5,334.3 82.5,334.2 83.5,333.2 84.1,330.1 84.9,330.6 85.6,331.4 86.6,333.1 87.8,333.5 88.7,332.2 89.9,332.4 91.0,334.1 92.2,333.9 92.7,331.8 93.7,333.7 94.8,333.6 95.7,334.3 96.8,332.3 97.3,332.2 97.9,334.7 98.8,333.3 99.5,333.9 100.4,333.9 101.5,335.6 102.0,334.1 102.7,333.9 103.8,333.6 105.0,333.0 105.8,332.6 106.9,331.7 107.7,333.4 108.3,333.0 109.1,333.3 109.9,334.8 110.9,334.2 111.5,334.0 112.3,334.2 112.8,333.1 114.0,332.3 115.0,331.9 115.5,332.8 116.4,331.3 117.0,333.0 118.1,332.8 118.7,333.9 119.9,332.3 121.0,330.7 121.6,331.1 122.8,332.4 123.9,333.0 124.6,334.9 125.5,334.4 126.0,333.0 127.1,331.2 127.9,332.1 128.6,330.9 129.2,329.3 130.1,330.0 130.8,331.5 131.7,330.6 132.6,331.3 133.1,331.1 134.3,331.2 135.4,332.3 136.0,334.0 137.0,333.4 137.8,334.2 138.9,332.9 139.9,332.5 140.4,332.3 141.0,332.6 141.8,331.4 142.9,331.8 143.9,331.3 144.8,332.3 145.5,331.6 146.3,331.9" fill="none" stroke="#6b6b6b" stroke-width="1.1" stroke-linejoin="round" />
<polyline points="54.0,347.2 54.6,325.7 55.8,331.2 56.4,330.5 57.1,329.3 58.0,329.7 59.0,330.1 59.8,334.4 60.9,334.2 62.0,333.3 62.8,330.6 64.1,326.9 65.0,326.5 66.1,327.8 66.9,328.6 67.9,329.2 68.9,327.9 69.6,326.8 70.2,326.8 71.1,324.0 72.3,324.6 73.3,325.8 74.0,325.5 74.9,324.8 75.9,326.6 76.8,327.4 77.8,326.8 78.6,326.8 79.3,327.0 80.0,326.4 80.8,326.5 81.5,327.6 82.6,329.5 83.5,325.3 84.6,325.9 85.7,327.8 86.4,326.8 86.9,325.5 87.8,326.3 89.0,326.8 89.8,327.4 90.4,326.9 91.1,326.0 92.0,327.8 93.0,327.1 94.3,324.8 94.9,325.0 95.5,325.1 96.2,323.5 97.5,325.0 98.4,325.2 99.5,324.2 100.4,322.2 101.2,323.9 102.1,323.4 103.1,325.5 103.8,325.2 104.3,325.4 104.9,325.6 105.9,325.3 106.7,324.4 107.4,324.2 108.3,324.7 109.0,324.0 110.2,323.1 111.2,323.1 111.7,324.4 112.6,324.7 113.5,323.9 114.5,324.6 115.4,324.9 116.6,326.0 117.7,325.1 118.7,325.6 119.6,324.3 120.6,325.5 121.4,326.8 122.5,327.9 123.7,328.5 124.8,327.6 125.7,325.8 127.0,325.4 128.2,324.5 128.8,323.4 129.8,322.2 130.4,322.3 131.5,322.3 132.0,324.4 133.1,325.7 134.3,327.5 135.2,326.9 136.4,327.8 137.5,327.3 138.3,325.9 139.3,325.4 140.2,326.6 141.4,323.8 142.2,324.4 143.4,325.0 144.2,323.9 145.0,322.9 145.7,322.2" fill="none" stroke="#6b6b6b" stroke-width="1.1" stroke-linejoin="round" />
<line x1="48.40" y1="285.70" x2="48.40" y2="388.00" stroke="#7a7a7a" stroke-width="2" />
<line x1="47.40" y1="388.00" x2="149.50" y2="388.00" stroke="#7a7a7a" stroke-width="2" />
<line x1="45.60" y1="388.00" x2="48.40" y2="388.00" stroke="#333" stroke-width="1" />
<text x="43.8" y="392.3" font-size="12.2" text-anchor="end" fill="#333" font-weight="normal" >0</text>
<line x1="45.60" y1="342.65" x2="48.40" y2="342.65" stroke="#333" stroke-width="1" />
<text x="43.8" y="346.9" font-size="12.2" text-anchor="end" fill="#333" font-weight="normal" >20</text>
<line x1="45.60" y1="297.30" x2="48.40" y2="297.30" stroke="#333" stroke-width="1" />
<text x="43.8" y="301.6" font-size="12.2" text-anchor="end" fill="#333" font-weight="normal" >40</text>
<line x1="48.40" y1="388.00" x2="48.40" y2="391.50" stroke="#333" stroke-width="1" />
<text x="48.4" y="404.2" font-size="12.2" text-anchor="middle" fill="#333" font-weight="normal" >0</text>
<line x1="98.95" y1="388.00" x2="98.95" y2="391.50" stroke="#333" stroke-width="1" />
<text x="99.1" y="404.2" font-size="12.2" text-anchor="middle" fill="#333" font-weight="normal" letter-spacing="0.45">20,000</text>
<line x1="149.50" y1="388.00" x2="149.50" y2="391.50" stroke="#333" stroke-width="1" />
<text x="149.7" y="404.2" font-size="12.2" text-anchor="middle" fill="#333" font-weight="normal" letter-spacing="0.45">40,000</text>
<text x="99.0" y="420.3" font-size="12.9" text-anchor="middle" fill="#333" font-weight="normal" >Gates</text>
<text x="0" y="0" font-size="12.6" text-anchor="middle" fill="#333" transform="translate(16.2,337.5) rotate(-90)">τ (μs)</text>
<polyline points="220.8,306.1 221.4,312.3 221.9,315.0 223.0,316.3 224.1,321.8 225.1,325.6 225.7,327.4 226.9,329.0 227.5,329.5 228.5,332.4 229.2,336.4 229.8,334.8 230.3,334.1 230.9,336.6 232.2,338.4 233.0,340.4 233.6,342.2 234.2,341.4 235.3,342.7 236.4,344.6 237.2,347.5 238.1,347.7 238.9,347.0 240.1,348.5 241.4,350.7 242.1,352.4 243.2,353.4 243.9,354.2 244.6,356.3 245.5,356.4 246.1,355.8 247.0,357.0 247.6,357.7 248.7,357.4 249.3,357.9 250.4,358.2 250.9,358.3 251.9,357.7 252.4,358.5 253.1,358.5 254.0,357.9 255.3,358.8 255.9,358.5 256.5,359.2 257.6,359.6 258.3,359.9 259.4,360.6 259.9,360.3 260.5,362.0 261.7,363.3 262.6,362.4 263.7,362.4 264.9,362.8 265.8,363.2 266.6,363.5 267.9,363.8 269.1,363.5 270.2,363.2 271.0,362.7 272.0,363.4 273.0,363.6 273.7,363.3 274.8,363.8 275.9,364.4 276.8,364.5 278.0,364.2 279.0,365.4 280.2,366.3 281.3,366.8 282.5,366.3 283.6,366.7 284.4,366.8 285.4,366.8 286.5,366.8 287.7,366.5 288.9,367.6 289.8,367.4 290.4,367.7 291.1,368.0 292.2,366.9 293.1,367.2 294.0,367.5 295.0,367.8 295.9,367.6 296.6,367.8 297.2,368.0 297.9,368.3 298.9,368.9 300.2,368.9 301.0,368.7 301.9,368.4 302.6,367.9 303.3,368.5 303.8,367.7 304.6,368.0 305.5,368.0 306.1,367.8 307.2,368.3 307.8,369.0 309.0,369.0 309.7,369.8 310.8,369.5 311.5,370.1 312.3,370.1" fill="none" stroke="#6b6b6b" stroke-width="1.1" stroke-linejoin="round" />
<polyline points="220.8,315.3 221.8,321.6 222.6,325.4 223.5,330.9 224.3,333.2 224.9,333.4 225.9,335.6 227.0,337.3 227.7,336.5 228.5,339.5 229.7,340.4 230.3,342.6 231.3,342.9 232.4,346.3 233.2,347.9 234.0,349.1 234.8,350.4 235.9,350.0 236.6,350.1 237.8,350.2 238.7,349.0 239.9,349.8 241.0,352.4 241.8,351.7 242.4,351.3 243.0,353.8 244.2,353.8 244.7,354.2 245.4,354.1 246.1,353.6 246.7,354.2 247.9,354.6 248.9,354.6 249.8,354.9 250.6,357.2 251.8,358.1 252.7,359.1 253.6,360.1 254.4,360.9 255.5,360.4 256.2,359.7 257.4,360.6 258.4,359.8 259.2,360.6 260.0,361.9 261.2,362.8 261.8,362.3 262.4,362.2 262.9,361.8 263.5,362.0 264.5,363.6 265.8,364.7 266.9,364.3 267.5,364.2 268.7,364.6 269.8,364.5 270.7,365.0 271.3,365.0 271.9,366.0 273.2,366.6 274.3,365.8 275.0,365.8 276.2,366.4 276.7,366.7 277.4,367.2 278.5,366.8 279.6,366.9 280.8,366.4 282.0,366.8 283.0,366.7 283.9,366.9 284.7,366.6 285.7,366.3 286.9,366.1 288.0,366.5 288.6,366.2 289.7,366.7 290.6,367.2 291.6,367.7 292.3,368.0 293.1,367.5 294.0,367.7 294.8,367.6 295.5,367.3 296.2,367.9 297.5,367.7 298.2,368.2 299.0,367.8 299.9,368.1 300.9,368.5 301.5,368.6 302.8,368.0 303.8,368.1 304.5,368.0 305.6,368.3 306.6,368.3 307.6,369.0 308.9,369.5 309.7,369.2 310.6,369.5 311.4,369.7 312.1,370.4 313.0,370.3" fill="none" stroke="#6b6b6b" stroke-width="1.1" stroke-linejoin="round" />
<polyline points="220.8,330.6 221.8,335.0 222.4,333.6 223.6,335.7 224.8,340.4 226.0,339.6 226.8,338.1 227.6,340.3 228.1,339.9 228.7,340.5 229.3,341.3 229.9,342.2 230.8,345.5 231.7,346.1 232.4,347.5 233.6,346.1 234.5,349.4 235.3,349.2 236.3,347.9 237.3,349.4 238.2,351.7 239.4,351.6 240.0,351.6 241.2,352.1 242.0,354.6 242.5,356.0 243.3,356.3 243.9,355.4 244.9,356.7 246.0,356.3 246.9,357.7 248.1,359.5 248.6,358.0 249.7,359.8 251.0,360.2 251.6,361.5 252.7,360.6 253.6,360.5 254.8,362.0 255.8,362.4 256.4,361.8 257.0,359.9 257.6,359.9 258.5,359.4 259.5,359.0 260.1,359.3 261.3,361.7 262.0,362.9 262.7,362.5 263.7,363.2 264.8,364.5 265.9,364.8 266.7,363.7 267.4,363.0 268.1,363.4 268.7,364.4 269.5,364.5 270.4,365.4 271.7,365.7 272.9,366.1 273.6,364.9 274.8,364.8 276.1,365.1 277.1,365.6 277.7,366.1 278.9,366.1 279.7,366.1 280.9,367.2 282.0,368.9 282.8,368.1 283.4,368.1 284.6,367.5 285.5,368.1 286.1,367.9 286.7,367.7 287.6,366.9 288.5,367.9 289.5,368.8 290.5,368.6 291.8,368.2 292.7,368.9 293.4,369.3 294.0,369.1 294.7,369.3 295.6,369.1 296.4,368.4 297.3,368.7 298.1,369.0 299.4,369.0 300.6,369.5 301.2,370.0 302.1,369.7 303.1,369.5 303.7,369.5 304.6,368.9 305.8,369.2 307.0,369.3 308.0,369.7 308.6,370.3 309.8,371.2 310.4,371.0 311.2,371.1 312.3,371.1 313.0,370.8" fill="none" stroke="#6b6b6b" stroke-width="1.1" stroke-linejoin="round" />
<polyline points="220.8,333.3 222.0,338.1 222.5,341.5 223.6,341.4 224.5,341.3 225.6,342.7 226.8,343.7 227.4,344.7 228.1,346.6 228.8,350.7 229.9,349.2 230.8,348.8 231.5,348.8 232.7,349.5 233.4,350.4 234.7,351.1 235.4,351.2 236.5,352.4 237.1,351.0 238.2,351.4 239.2,351.4 240.4,355.8 241.2,354.8 242.4,352.5 243.0,355.6 243.7,356.9 244.4,359.1 245.5,359.1 246.1,359.0 246.6,358.6 247.6,356.9 248.8,357.0 249.8,358.4 250.9,359.2 252.0,360.1 252.7,361.5 253.7,361.2 254.9,361.7 255.9,361.3 256.5,361.1 257.3,361.9 258.0,362.2 258.6,362.8 259.2,362.2 260.5,361.9 261.0,362.9 261.7,362.9 262.5,362.6 263.2,362.6 263.7,361.9 264.8,361.5 266.0,362.0 266.7,363.7 267.3,363.1 268.4,363.7 269.0,363.9 269.6,365.0 270.2,364.3 270.8,364.8 271.4,365.0 272.2,365.8 272.9,365.5 273.7,365.1 274.3,365.0 274.9,364.9 275.5,365.4 276.5,365.8 277.6,366.4 278.3,367.8 279.1,367.8 280.3,367.6 280.8,366.7 282.1,367.1 282.6,366.2 283.7,367.4 284.7,367.9 285.8,368.4 286.8,368.8 287.7,368.9 288.7,368.0 289.5,368.4 290.5,368.5 291.4,368.0 292.5,368.0 293.1,368.2 294.1,368.1 295.3,368.0 296.1,368.2 296.9,367.9 297.8,368.1 298.5,367.9 299.8,369.0 301.0,369.2 302.3,368.5 302.8,368.8 304.1,369.1 305.1,369.7 306.1,370.4 306.9,370.2 307.9,370.3 308.9,370.5 310.0,370.2 310.9,370.7 311.5,370.5 312.0,369.8" fill="none" stroke="#6b6b6b" stroke-width="1.1" stroke-linejoin="round" />
<polyline points="220.8,340.7 221.3,338.7 222.2,340.0 222.8,344.1 223.4,343.5 224.4,345.5 225.4,347.2 226.4,345.7 227.1,346.9 227.7,343.8 228.6,349.1 229.8,349.7 230.9,352.3 231.4,354.1 232.4,356.6 233.2,355.2 233.8,357.2 234.7,355.3 235.7,354.9 236.4,355.2 237.3,353.8 238.0,353.0 238.5,354.2 239.5,354.2 240.6,353.2 241.8,353.7 242.7,356.0 243.3,357.8 243.8,356.5 244.7,358.2 245.6,360.5 246.2,360.5 247.3,360.4 248.3,359.9 249.4,361.2 250.5,362.1 251.3,363.8 252.6,364.4 253.2,364.9 254.3,364.6 255.1,363.4 256.0,364.4 257.0,364.8 257.8,365.2 258.4,364.8 259.1,365.5 260.2,365.2 261.2,365.5 261.9,365.3 263.0,366.7 263.9,365.7 264.5,365.0 265.5,365.0 266.3,365.7 267.4,366.4 268.2,367.1 269.4,367.3 270.4,367.8 271.6,368.8 272.3,369.3 273.0,368.7 273.6,368.9 274.2,368.0 274.9,368.7 275.9,368.5 276.5,367.8 277.4,368.1 278.4,368.9 279.0,369.8 279.8,369.4 280.8,370.2 281.9,370.5 282.7,369.9 283.5,370.6 284.5,371.0 285.3,370.4 286.2,370.6 287.1,369.6 288.1,370.3 288.7,370.3 289.7,370.8 290.6,370.6 291.2,371.0 292.0,371.6 292.7,370.7 293.4,370.8 294.0,371.1 295.2,371.2 296.2,371.3 296.8,370.8 297.5,371.7 298.3,371.9 299.5,371.8 300.7,371.6 301.5,371.7 302.5,371.2 303.1,370.9 304.1,370.8 305.1,370.7 305.9,370.3 306.8,370.6 307.7,371.1 308.5,371.6 309.2,372.0 309.9,372.3 311.1,372.5 312.3,372.6" fill="none" stroke="#6b6b6b" stroke-width="1.1" stroke-linejoin="round" />
<polyline points="220.8,344.2 221.9,344.3 223.0,346.2 224.2,349.3 224.7,348.1 225.9,349.1 226.5,349.3 227.4,351.8 228.4,355.7 229.0,351.7 230.1,353.9 231.3,353.1 232.4,355.8 232.9,355.5 233.7,355.7 234.7,357.2 235.6,357.3 236.3,357.5 237.1,357.9 238.1,358.3 238.9,358.4 240.1,360.6 240.9,360.6 242.2,362.5 243.2,362.3 244.3,363.8 245.6,362.0 246.7,361.4 247.5,362.1 248.7,361.8 249.6,363.2 250.1,363.4 251.1,363.5 251.7,363.9 252.5,364.2 253.6,364.6 254.8,364.9 255.4,365.8 256.3,364.9 257.3,364.8 258.2,365.1 258.9,365.8 259.9,366.3 261.0,367.0 261.9,366.8 262.6,366.1 263.5,366.6 264.6,365.6 265.6,367.9 266.6,368.7 267.5,367.9 268.1,368.6 268.8,368.6 270.0,368.5 270.7,369.6 271.7,369.7 272.4,369.5 273.0,368.9 273.8,369.2 274.5,369.6 275.7,369.6 276.2,369.9 277.3,368.9 277.9,370.5 279.1,369.6 279.9,369.6 280.4,369.9 281.6,368.7 282.5,367.9 283.6,369.5 284.7,369.4 285.4,369.3 286.3,369.5 286.9,369.2 287.5,369.2 288.2,369.7 289.3,370.2 290.0,370.6 291.2,370.3 291.7,370.3 293.0,370.7 293.9,370.8 294.9,371.4 295.9,371.2 297.1,371.0 297.8,371.1 298.9,371.1 300.0,370.4 300.6,370.5 301.4,371.1 302.2,371.3 303.1,371.4 303.8,371.8 305.0,371.9 306.2,371.8 307.4,371.8 308.6,371.5 309.4,371.7 310.0,371.9 310.9,372.8 311.8,372.7 312.5,372.9" fill="none" stroke="#6b6b6b" stroke-width="1.1" stroke-linejoin="round" />
<polyline points="220.8,341.4 221.4,351.9 222.5,356.2 223.2,354.9 223.8,354.3 224.9,354.4 225.9,356.5 226.6,354.1 227.8,355.9 228.8,357.1 229.6,353.8 230.6,352.1 231.6,356.4 232.2,354.8 233.0,353.1 233.6,355.3 234.7,356.7 235.3,360.2 235.9,359.9 236.7,360.1 237.4,359.3 238.1,359.9 239.1,360.2 239.9,360.8 241.0,358.9 241.8,359.5 242.8,358.9 243.9,359.8 244.5,360.4 245.8,362.2 246.4,362.6 247.5,362.4 248.2,363.3 248.8,363.7 249.6,362.8 250.1,362.5 251.3,362.7 252.5,362.7 253.3,364.0 254.5,364.3 255.5,365.8 256.7,366.4 257.8,366.4 259.0,366.4 260.1,365.8 261.2,364.9 261.9,365.0 262.5,364.8 263.4,365.2 264.0,365.8 265.2,366.7 266.5,367.2 267.0,367.2 268.0,368.1 268.8,367.3 269.5,366.6 270.6,365.6 271.6,366.3 272.7,366.4 273.7,367.2 274.8,367.2 275.3,368.2 276.2,369.2 277.2,368.9 278.3,369.3 279.3,369.5 280.3,369.8 281.1,369.1 281.8,368.6 282.7,369.1 283.4,369.2 284.4,370.1 285.0,370.8 285.7,370.5 286.8,371.1 287.7,371.1 288.8,371.1 290.0,371.2 291.0,371.5 292.0,371.6 293.2,371.1 293.9,371.3 294.4,371.5 295.0,371.8 295.9,370.9 296.8,370.8 297.4,370.6 298.0,371.1 299.1,371.1 300.0,371.5 300.8,372.0 301.4,372.3 302.4,371.1 303.2,372.0 304.3,372.8 305.2,372.7 305.8,372.5 306.9,372.5 308.0,373.2 308.6,373.1 309.1,373.0 310.1,372.6 310.9,372.7 312.0,373.0 313.0,372.8" fill="none" stroke="#6b6b6b" stroke-width="1.1" stroke-linejoin="round" />
<polyline points="220.8,336.7 221.8,344.8 222.4,345.0 223.3,343.0 224.3,345.2 225.5,345.1 226.2,346.8 227.2,350.0 227.7,351.0 228.4,351.3 229.3,351.3 230.5,355.6 231.2,354.3 232.2,355.8 233.3,356.5 234.1,355.9 234.9,356.9 235.9,360.1 236.4,359.2 237.7,361.4 238.3,360.0 239.3,360.6 239.9,360.6 240.9,359.7 241.6,361.2 242.2,361.7 243.2,362.0 243.9,361.8 244.7,362.3 245.9,362.9 246.5,362.7 247.2,363.0 248.0,363.4 248.7,363.8 249.8,363.8 250.4,364.1 251.1,365.0 252.4,364.2 253.4,364.8 253.9,364.5 254.5,363.7 255.3,365.4 255.9,365.2 256.8,365.9 257.9,365.4 258.6,365.6 259.4,364.3 260.5,365.8 261.7,367.0 262.7,366.4 263.9,367.7 264.6,366.8 265.5,366.1 266.6,367.0 267.3,367.9 268.4,367.6 269.1,368.8 270.1,369.1 270.8,368.6 271.5,368.4 272.4,368.8 273.6,369.0 274.8,369.0 276.0,368.9 276.6,368.8 277.7,368.7 278.3,369.9 279.3,370.2 280.1,370.7 281.0,371.3 281.7,371.7 282.3,372.1 283.3,372.0 284.0,371.5 284.6,371.1 285.4,371.6 286.6,371.3 287.1,371.6 288.1,371.5 288.7,370.8 289.8,370.8 290.9,371.2 291.5,371.0 292.2,370.7 293.0,371.5 294.1,371.0 295.2,371.3 296.4,371.2 297.2,371.1 297.9,371.0 298.9,371.6 300.0,371.7 301.1,371.7 302.0,371.7 302.7,371.5 303.2,371.9 303.9,372.1 304.8,372.0 306.0,372.6 307.3,372.5 308.1,373.2 309.2,372.7 310.0,372.7 310.6,373.1 311.3,373.5 312.0,372.8 312.5,372.4" fill="none" stroke="#6b6b6b" stroke-width="1.1" stroke-linejoin="round" />
<polyline points="220.8,343.7 221.6,344.8 222.6,346.1 223.5,345.0 224.4,352.4 225.0,350.1 225.9,355.0 226.8,354.8 227.4,356.7 228.6,358.4 229.8,357.9 231.0,360.4 232.2,359.1 233.1,362.4 233.7,361.7 234.8,360.9 235.9,359.8 236.4,358.2 237.7,360.1 238.8,361.6 239.4,362.2 240.6,362.2 241.3,363.2 242.6,363.6 243.2,363.0 244.3,362.9 245.3,364.0 246.3,364.4 247.4,365.0 248.0,364.0 249.2,363.7 250.2,363.2 251.2,365.2 252.4,364.1 253.0,364.9 253.8,366.2 254.6,366.1 255.8,367.4 257.1,368.8 257.6,368.9 258.2,366.5 259.0,366.3 259.8,365.8 261.0,365.1 261.7,366.2 262.7,366.1 263.6,366.8 264.8,367.5 265.8,367.9 266.4,367.0 267.5,367.3 268.3,367.5 268.8,368.1 269.4,368.9 270.4,369.1 271.6,370.5 272.2,370.2 273.3,369.9 274.2,369.0 275.0,369.7 276.0,369.7 276.9,369.7 277.7,369.6 278.4,369.6 279.5,369.4 280.0,370.0 280.9,370.6 282.0,371.1 282.6,370.2 283.3,370.2 284.3,370.6 285.5,370.9 286.5,371.5 287.5,371.7 288.7,371.6 289.9,371.9 291.0,371.9 291.6,370.7 292.3,370.7 293.0,371.5 294.0,372.4 294.6,372.1 295.3,372.5 296.4,372.6 297.1,372.2 298.0,372.4 299.2,372.8 300.1,372.6 300.9,373.1 301.9,372.9 302.5,372.9 303.1,373.0 304.3,372.9 304.8,373.1 305.8,373.1 307.0,373.6 308.1,373.8 309.0,374.0 309.8,374.5 310.3,374.5 311.4,374.1 312.5,373.7" fill="none" stroke="#6b6b6b" stroke-width="1.1" stroke-linejoin="round" />
<polyline points="220.8,346.7 221.5,343.2 222.6,347.1 223.7,345.4 224.8,351.1 225.8,351.2 226.6,352.7 227.7,351.5 228.5,353.0 229.1,355.6 230.1,355.9 230.8,356.9 231.6,355.2 232.7,356.1 233.4,356.4 234.1,360.6 234.9,361.2 236.1,362.0 237.3,362.0 238.0,362.9 239.3,361.7 240.2,363.3 240.7,363.6 241.5,363.6 242.1,362.7 242.8,363.4 243.9,363.9 244.7,364.8 245.8,366.7 246.7,366.3 247.4,365.2 248.1,364.8 249.3,367.1 250.5,368.5 251.5,369.4 252.7,368.9 253.2,368.2 254.0,367.3 254.8,367.7 255.8,368.5 256.8,367.8 257.9,368.8 258.5,369.3 259.1,368.8 260.2,368.7 261.4,368.7 262.2,368.0 263.0,367.9 263.9,369.1 265.1,369.6 265.7,369.4 266.4,369.8 267.3,370.3 268.0,370.7 269.0,370.8 269.8,370.7 270.4,371.2 271.4,371.8 272.4,370.5 273.6,371.6 274.3,372.2 275.2,371.9 276.0,371.2 277.2,372.2 277.8,372.7 279.0,372.6 280.1,373.0 281.1,373.2 281.7,372.7 282.3,373.0 282.9,372.6 284.1,372.6 284.7,372.2 285.5,372.2 286.7,372.4 287.6,373.1 288.6,373.6 289.2,373.0 289.9,373.0 290.4,372.7 291.5,373.5 292.2,373.3 292.9,372.7 293.6,372.4 294.7,373.0 295.9,373.2 296.6,373.3 297.8,373.4 298.7,373.8 299.2,374.7 300.1,374.5 300.8,374.2 301.7,373.6 302.2,373.8 303.1,373.9 303.7,374.3 304.9,374.3 306.0,373.9 306.6,374.0 307.7,374.8 308.5,375.2 309.6,375.6 310.3,375.1 310.9,375.4 311.9,376.2 312.6,375.9" fill="none" stroke="#6b6b6b" stroke-width="1.1" stroke-linejoin="round" />
<line x1="214.20" y1="294.00" x2="214.20" y2="388.00" stroke="#7a7a7a" stroke-width="2" />
<line x1="213.20" y1="388.00" x2="315.60" y2="388.00" stroke="#7a7a7a" stroke-width="2" />
<line x1="210.70" y1="388.00" x2="214.20" y2="388.00" stroke="#333" stroke-width="1" />
<text x="206.8" y="392.3" font-size="12.2" text-anchor="end" fill="#333" font-weight="normal" >0</text>
<line x1="210.70" y1="341.20" x2="214.20" y2="341.20" stroke="#333" stroke-width="1" />
<text x="206.8" y="345.5" font-size="12.2" text-anchor="end" fill="#333" font-weight="normal" >4</text>
<line x1="210.70" y1="294.40" x2="214.20" y2="294.40" stroke="#333" stroke-width="1" />
<text x="206.8" y="298.7" font-size="12.2" text-anchor="end" fill="#333" font-weight="normal" >8</text>
<line x1="214.20" y1="388.00" x2="214.20" y2="391.50" stroke="#333" stroke-width="1" />
<text x="214.2" y="404.2" font-size="12.2" text-anchor="middle" fill="#333" font-weight="normal" >0</text>
<line x1="264.90" y1="388.00" x2="264.90" y2="391.50" stroke="#333" stroke-width="1" />
<text x="265.1" y="404.2" font-size="12.2" text-anchor="middle" fill="#333" font-weight="normal" letter-spacing="0.45">20,000</text>
<line x1="315.60" y1="388.00" x2="315.60" y2="391.50" stroke="#333" stroke-width="1" />
<text x="315.8" y="404.2" font-size="12.2" text-anchor="middle" fill="#333" font-weight="normal" letter-spacing="0.45">40,000</text>
<text x="264.9" y="420.3" font-size="12.9" text-anchor="middle" fill="#333" font-weight="normal" >Gates</text>
<text x="0" y="0" font-size="13.0" text-anchor="middle" fill="#333" transform="translate(189.3,341.7) rotate(-90)">s.e.m. τ (μs)</text>
<polyline points="385.6,340.7 385.9,341.1 386.2,340.9 386.6,340.6 386.9,340.4 387.2,340.1 387.5,340.1 387.8,340.2 388.1,340.3 388.4,340.3 388.7,340.3 389.0,340.0 389.3,339.7 389.7,340.1 390.0,339.8 390.3,339.8 390.6,339.4 390.9,339.0 391.2,338.9 391.5,339.4 391.8,339.2 392.1,339.7 392.5,339.2 392.8,339.4 393.1,339.4 393.4,338.9 393.7,339.5 395.5,339.4 397.0,339.6 398.5,339.4 399.7,339.2 402.0,339.7 403.9,340.1 405.1,340.2 407.0,340.3 408.3,340.2 410.0,340.1 411.8,339.8 413.4,339.6 414.7,339.3 416.1,339.3 417.2,339.1 419.1,338.9 421.0,339.0 423.3,338.9 425.3,339.0 427.5,339.1 429.0,339.3 431.2,339.0 432.5,339.4 434.6,339.7 435.8,339.4 438.1,339.8 439.4,340.0 441.3,340.3 442.8,340.4 444.7,340.5 446.0,340.2 447.9,340.0 449.0,339.8 450.9,340.1 452.0,340.2 453.6,340.2 454.6,340.0 456.9,339.8 458.3,339.7 460.1,339.4 461.6,339.3 463.7,339.0 465.4,339.1 467.7,339.5 469.6,339.5 471.0,339.2 473.2,339.2 475.2,339.3 477.4,338.9 478.7,339.2 480.1,339.3 481.5,339.3 482.6,339.1 484.1,338.8" fill="none" stroke="#666" stroke-width="1.0" stroke-linejoin="round" />
<polyline points="385.6,345.2 385.9,344.5 386.2,343.7 386.6,343.5 386.9,343.2 387.2,342.8 387.5,342.2 387.8,341.5 388.1,340.9 388.4,340.3 388.7,339.9 389.0,339.8 389.3,339.5 389.7,339.5 390.0,339.4 390.3,339.2 390.6,339.0 390.9,339.5 391.2,339.3 391.5,339.2 391.8,339.2 392.1,339.3 392.5,339.3 392.8,339.2 393.1,339.4 393.4,339.1 393.7,339.3 394.9,339.0 397.0,338.9 398.3,339.1 399.8,339.0 401.8,338.9 403.7,338.5 406.0,339.2 407.6,339.2 409.3,339.6 411.5,339.9 412.7,339.6 414.8,339.3 416.5,339.5 417.9,338.8 419.1,338.7 421.1,338.7 422.2,338.9 424.6,339.4 426.6,339.7 428.8,339.5 430.7,339.6 431.9,339.1 433.3,338.8 434.7,338.8 436.7,338.8 437.8,338.9 439.2,339.2 440.5,338.6 442.7,338.5 445.0,338.8 447.0,339.0 448.6,339.0 450.8,339.2 452.4,339.2 454.0,339.1 455.1,338.7 457.2,338.7 459.0,338.6 460.4,338.4 462.1,338.7 464.2,338.6 466.1,338.2 467.7,338.3 469.8,338.3 471.1,338.3 472.2,338.5 473.8,338.4 475.5,338.6 477.3,338.6 478.4,338.3 480.0,338.4 481.3,338.7 482.4,338.8" fill="none" stroke="#666" stroke-width="1.0" stroke-linejoin="round" />
<polyline points="385.6,331.4 385.9,331.6 386.2,332.6 386.6,333.0 386.9,334.1 387.2,334.8 387.5,335.6 387.8,336.1 388.1,336.7 388.4,336.9 388.7,337.0 389.0,337.3 389.3,337.8 389.7,337.6 390.0,337.6 390.3,338.0 390.6,338.3 390.9,338.3 391.2,338.9 391.5,339.3 391.8,338.9 392.1,339.3 392.5,339.3 392.8,339.8 393.1,339.4 393.4,340.0 393.7,339.7 395.2,340.1 397.1,340.7 398.6,340.3 400.2,340.1 402.3,339.9 403.9,340.6 405.4,340.9 406.6,340.9 407.9,340.6 409.3,340.2 411.6,340.0 413.0,339.3 414.3,339.1 415.5,339.2 416.7,338.9 418.0,338.8 419.2,338.4 420.3,338.5 421.7,339.1 423.5,339.3 425.5,339.4 427.6,339.9 428.9,339.4 430.6,339.3 432.3,339.2 434.2,339.4 435.8,339.6 437.2,339.4 439.0,340.0 440.4,340.1 442.3,339.7 443.6,339.4 445.7,339.2 447.8,339.2 449.1,339.2 450.7,339.1 451.9,339.2 453.5,339.6 455.4,339.5 456.9,339.2 458.0,339.1 459.1,339.2 461.2,339.1 462.8,339.4 464.0,339.0 465.3,339.0 466.6,339.0 468.1,339.0 470.1,339.0 472.1,339.2 473.8,339.6 475.9,340.1 477.7,339.9 479.5,340.2 481.5,340.3 482.6,340.3" fill="none" stroke="#666" stroke-width="1.0" stroke-linejoin="round" />
<polyline points="385.6,339.0 385.9,338.6 386.2,339.0 386.6,338.6 386.9,338.9 387.2,339.0 387.5,338.9 387.8,339.1 388.1,339.5 388.4,339.5 388.7,339.5 389.0,339.8 389.3,339.4 389.7,339.5 390.0,339.6 390.3,339.5 390.6,339.4 390.9,339.0 391.2,339.5 391.5,339.4 391.8,339.0 392.1,338.9 392.5,338.9 392.8,339.1 393.1,339.0 393.4,339.0 393.7,338.9 395.5,339.1 396.6,339.5 398.6,339.1 400.3,339.1 402.3,338.9 403.9,338.9 405.4,339.3 407.6,338.7 408.7,338.2 411.0,338.4 413.3,338.6 415.0,338.7 417.0,338.6 418.9,338.6 420.5,338.4 422.7,338.2 423.8,338.5 425.9,338.3 427.6,337.9 429.8,337.6 431.8,337.3 432.9,337.6 434.8,337.8 437.1,338.0 438.9,338.3 440.2,338.5 442.2,338.4 443.3,338.6 445.1,338.6 446.2,338.2 448.2,338.1 450.3,338.6 451.6,339.4 453.4,339.4 454.6,339.4 456.0,339.8 457.9,339.7 459.7,339.2 461.4,338.9 462.6,339.0 464.1,339.1 465.7,339.0 467.3,339.1 468.6,339.2 470.0,339.6 472.0,339.7 473.4,339.5 475.1,339.2 476.1,339.5 478.2,339.6 479.5,339.6 481.1,339.6 482.3,339.7" fill="none" stroke="#666" stroke-width="1.0" stroke-linejoin="round" />
<polyline points="385.6,336.8 385.9,337.0 386.2,337.4 386.6,337.2 386.9,337.6 387.2,338.1 387.5,338.0 387.8,337.7 388.1,337.5 388.4,337.8 388.7,337.9 389.0,338.2 389.3,338.4 389.7,339.0 390.0,339.2 390.3,338.7 390.6,339.0 390.9,338.4 391.2,338.3 391.5,338.9 391.8,338.5 392.1,338.8 392.5,338.5 392.8,338.6 393.1,338.6 393.4,338.6 393.7,338.9 395.1,339.1 397.2,339.2 398.5,339.0 400.2,339.0 401.7,338.9 404.0,339.2 405.6,339.0 406.7,339.1 407.9,339.1 409.7,339.0 412.0,339.0 413.0,338.8 415.1,338.5 417.1,338.5 419.3,338.8 420.5,338.6 421.7,338.6 423.7,338.5 425.1,338.9 427.2,339.0 428.4,338.9 430.7,338.7 432.2,338.6 434.4,338.3 436.2,338.7 437.3,338.7 439.6,338.8 441.8,338.3 443.2,338.1 444.4,337.9 445.8,338.2 447.5,337.9 449.4,337.8 451.6,337.4 452.7,337.1 454.0,337.3 455.2,337.2 457.1,337.5 458.8,337.4 460.0,337.8 461.6,338.5 463.2,338.7 464.7,338.5 466.0,338.6 467.7,338.1 468.8,337.8 470.3,337.4 472.4,337.8 473.9,338.1 475.7,338.4 477.9,338.2 479.1,338.1 481.3,337.5 483.4,337.5" fill="none" stroke="#666" stroke-width="1.0" stroke-linejoin="round" />
<polyline points="385.6,343.2 385.9,342.9 386.2,342.1 386.6,341.8 386.9,341.4 387.2,341.5 387.5,341.2 387.8,341.1 388.1,340.6 388.4,340.4 388.7,339.9 389.0,339.7 389.3,339.0 389.7,338.5 390.0,338.4 390.3,338.3 390.6,338.0 390.9,337.7 391.2,337.8 391.5,337.6 391.8,337.4 392.1,337.2 392.5,337.1 392.8,337.0 393.1,336.6 393.4,336.5 393.7,336.6 395.1,336.6 396.3,336.6 398.0,336.8 399.6,336.7 400.7,336.8 402.0,336.6 403.1,336.6 404.7,336.7 406.0,336.6 408.2,336.2 410.5,336.4 412.1,336.2 413.2,336.6 414.8,336.4 416.8,336.7 419.0,336.7 420.8,336.7 422.5,336.1 424.3,336.8 426.2,336.7 427.9,337.0 430.0,336.7 431.8,336.4 433.4,336.7 434.8,336.8 437.0,336.6 438.8,336.5 440.4,336.5 442.4,336.2 443.8,336.7 445.4,336.4 447.3,336.6 448.4,336.9 450.6,336.9 452.9,336.9 455.0,337.2 457.3,336.9 459.0,336.8 460.4,336.7 461.7,336.3 463.5,336.0 465.8,336.1 466.8,335.7 469.0,335.5 470.7,335.7 472.7,335.6 474.5,336.1 475.6,336.1 477.2,335.7 478.8,336.3 480.9,336.1 482.1,336.4 483.3,336.6" fill="none" stroke="#666" stroke-width="1.0" stroke-linejoin="round" />
<polyline points="385.6,344.9 385.9,344.2 386.2,343.1 386.6,342.6 386.9,342.2 387.2,341.5 387.5,340.7 387.8,340.4 388.1,339.9 388.4,339.5 388.7,339.1 389.0,338.7 389.3,338.6 389.7,338.1 390.0,338.1 390.3,337.6 390.6,337.6 390.9,337.5 391.2,337.3 391.5,337.5 391.8,337.7 392.1,337.8 392.5,338.2 392.8,337.7 393.1,337.4 393.4,337.4 393.7,338.0 395.0,337.6 396.8,337.4 398.3,337.4 399.8,337.2 401.3,337.4 402.6,337.2 403.9,338.0 406.0,337.6 407.2,337.6 408.7,337.6 411.0,337.5 412.8,337.3 414.6,337.9 416.3,337.8 417.8,337.5 419.8,337.1 421.5,337.2 423.6,336.9 425.9,337.3 427.4,337.4 428.6,336.9 430.8,336.7 432.7,337.0 434.3,337.4 435.9,337.3 437.8,336.7 439.5,336.6 440.6,337.1 441.9,337.5 443.3,337.3 444.9,337.3 446.8,337.4 447.9,337.6 450.1,337.3 451.7,337.4 453.6,337.7 455.2,337.6 457.4,337.3 459.5,337.5 460.9,337.8 462.2,337.9 464.0,337.8 466.2,337.9 468.1,337.6 470.3,337.8 472.5,337.8 474.7,336.9 475.9,336.7 477.6,337.4 479.0,337.3 480.1,336.9 481.7,336.9 483.3,336.9" fill="none" stroke="#666" stroke-width="1.0" stroke-linejoin="round" />
<polyline points="385.6,341.3 385.9,340.0 386.2,339.7 386.6,339.4 386.9,338.9 387.2,338.4 387.5,337.9 387.8,337.7 388.1,337.5 388.4,337.0 388.7,337.2 389.0,336.9 389.3,337.0 389.7,336.8 390.0,336.4 390.3,336.5 390.6,336.6 390.9,336.9 391.2,336.9 391.5,337.1 391.8,337.0 392.1,337.0 392.5,336.9 392.8,336.8 393.1,336.7 393.4,336.5 393.7,336.7 395.6,336.1 396.7,335.7 398.7,336.3 400.9,336.4 402.0,336.2 403.1,336.1 405.2,335.8 407.5,335.6 409.4,335.2 411.0,335.3 413.2,335.4 414.8,335.1 416.6,335.4 418.9,334.9 420.8,335.7 423.1,335.7 424.2,335.7 425.3,335.8 426.7,336.1 428.9,335.9 430.2,336.1 431.4,336.4 433.7,336.2 435.8,336.3 437.5,336.6 439.3,337.1 440.8,336.7 442.6,336.6 444.0,336.6 445.4,336.6 447.0,337.0 448.3,336.9 449.7,336.8 451.0,337.0 452.8,337.1 455.1,336.8 457.4,336.5 459.4,337.2 460.9,337.0 462.2,337.0 463.9,336.6 465.7,336.3 467.0,336.3 468.6,336.4 470.0,336.3 471.6,336.3 473.5,336.5 474.7,336.0 475.8,335.7 477.5,335.7 479.2,336.3 480.5,336.2 481.7,336.2 483.8,335.7" fill="none" stroke="#666" stroke-width="1.0" stroke-linejoin="round" />
<polyline points="385.6,345.3 385.9,344.4 386.2,343.6 386.6,342.8 386.9,342.3 387.2,341.6 387.5,341.1 387.8,340.7 388.1,340.4 388.4,340.0 388.7,340.2 389.0,339.7 389.3,340.0 389.7,339.7 390.0,339.3 390.3,339.1 390.6,338.7 390.9,337.9 391.2,337.6 391.5,337.5 391.8,337.2 392.1,337.3 392.5,337.6 392.8,337.6 393.1,337.3 393.4,337.1 393.7,336.8 395.5,336.3 397.8,336.2 399.9,336.5 401.5,336.7 403.4,336.2 405.5,335.8 407.0,335.7 408.2,335.9 409.7,335.9 411.4,335.9 413.0,336.3 414.9,336.6 416.8,336.9 418.9,336.7 420.0,336.0 422.0,335.6 423.4,335.5 424.7,335.5 426.6,335.7 427.7,335.5 429.5,335.3 431.4,335.6 432.5,335.2 433.7,335.5 435.6,335.2 437.8,335.5 439.7,335.1 441.0,335.3 442.8,335.1 444.5,335.0 445.9,334.9 447.1,334.9 449.1,335.5 450.4,335.5 451.7,335.6 453.1,335.8 454.8,336.0 456.0,336.4 458.2,336.3 459.7,336.7 460.8,336.4 462.6,335.9 464.5,335.5 465.7,334.9 467.1,334.7 468.9,335.0 470.0,335.2 472.0,335.4 474.1,335.1 476.3,335.2 478.4,335.0 480.0,334.8 481.1,335.0 482.5,334.7" fill="none" stroke="#666" stroke-width="1.0" stroke-linejoin="round" />
<polyline points="385.6,329.7 385.9,330.1 386.2,330.3 386.6,330.5 386.9,330.9 387.2,331.2 387.5,330.9 387.8,331.2 388.1,331.4 388.4,331.6 388.7,331.9 389.0,332.3 389.3,332.8 389.7,333.6 390.0,333.7 390.3,333.9 390.6,334.2 390.9,334.3 391.2,334.8 391.5,335.1 391.8,335.3 392.1,334.9 392.5,335.1 392.8,334.6 393.1,334.5 393.4,334.7 393.7,334.9 395.7,334.7 397.4,334.9 399.5,334.9 401.0,334.9 402.7,335.2 404.4,335.5 406.0,335.5 407.3,335.8 409.0,336.2 411.0,336.0 413.3,335.9 415.2,336.1 416.6,336.8 417.8,336.9 419.4,337.1 420.7,336.7 422.6,336.0 423.7,335.5 425.6,335.5 427.0,335.8 428.5,335.5 430.2,335.6 432.5,336.1 434.3,335.9 436.4,335.9 437.7,336.0 439.1,335.8 440.7,335.4 442.2,334.5 443.9,334.5 445.2,334.6 446.4,334.8 448.6,334.9 449.9,335.2 451.8,335.2 453.2,334.9 455.1,334.9 457.2,334.8 458.9,334.8 461.1,334.8 462.8,335.4 463.9,335.5 465.1,335.4 466.2,334.9 468.0,334.9 469.9,335.2 471.0,335.4 472.9,335.3 474.4,335.6 476.7,336.1 478.8,336.2 480.3,336.7 481.4,336.5 482.9,336.6" fill="none" stroke="#666" stroke-width="1.0" stroke-linejoin="round" />
<line x1="383.30" y1="284.10" x2="383.30" y2="388.00" stroke="#7a7a7a" stroke-width="2" />
<line x1="382.30" y1="388.00" x2="486.70" y2="388.00" stroke="#7a7a7a" stroke-width="2" />
<line x1="379.80" y1="388.00" x2="383.30" y2="388.00" stroke="#333" stroke-width="1" />
<text x="375.9" y="392.3" font-size="12.2" text-anchor="end" fill="#333" font-weight="normal" >0</text>
<line x1="379.80" y1="342.10" x2="383.30" y2="342.10" stroke="#333" stroke-width="1" />
<text x="375.9" y="346.4" font-size="12.2" text-anchor="end" fill="#333" font-weight="normal" >20</text>
<line x1="379.80" y1="296.20" x2="383.30" y2="296.20" stroke="#333" stroke-width="1" />
<text x="375.9" y="300.5" font-size="12.2" text-anchor="end" fill="#333" font-weight="normal" >40</text>
<line x1="383.30" y1="388.00" x2="383.30" y2="391.50" stroke="#333" stroke-width="1" />
<text x="383.3" y="404.2" font-size="12.2" text-anchor="middle" fill="#333" font-weight="normal" >0</text>
<line x1="435.00" y1="388.00" x2="435.00" y2="391.50" stroke="#333" stroke-width="1" />
<text x="435.2" y="404.2" font-size="12.2" text-anchor="middle" fill="#333" font-weight="normal" letter-spacing="0.45">20,000</text>
<line x1="486.70" y1="388.00" x2="486.70" y2="391.50" stroke="#333" stroke-width="1" />
<text x="486.9" y="404.2" font-size="12.2" text-anchor="middle" fill="#333" font-weight="normal" letter-spacing="0.45">40,000</text>
<text x="435.0" y="420.3" font-size="12.9" text-anchor="middle" fill="#333" font-weight="normal" >Gates</text>
<text x="0" y="0" font-size="12.6" text-anchor="middle" fill="#333" transform="translate(354.3,336.6) rotate(-90)">τ (μs)</text>
<polyline points="549.8,367.6 549.9,370.1 550.0,370.5 550.1,372.2 550.2,373.1 550.3,373.2 550.4,374.8 550.5,375.5 550.6,375.9 550.7,376.6 550.8,376.7 550.9,377.3 551.0,377.4 551.1,377.1 551.2,378.2 551.3,378.2 551.4,378.5 551.5,379.2 551.6,378.9 551.7,379.0 551.8,379.6 552.2,380.2 552.6,380.7 553.0,381.1 553.3,381.5 553.7,381.7 554.1,381.9 554.5,381.8 554.9,382.9 555.2,382.4 555.6,383.1 556.0,382.9 556.4,383.0 556.8,383.5 557.1,383.3 557.5,383.4 557.9,383.7 558.3,383.8 558.7,383.6 559.0,383.8 559.4,384.1 561.2,384.4 562.9,384.7 564.7,384.8 566.5,385.0 568.3,385.3 570.0,385.2 571.8,385.4 573.6,385.5 575.3,385.6 577.1,385.6 578.9,385.8 580.6,385.8 582.4,385.9 584.2,385.9 585.9,386.0 587.7,386.1 589.5,386.2 591.3,386.2 593.0,386.2 594.8,386.3 596.6,386.3 598.3,386.3 600.1,386.3 601.9,386.4 603.6,386.3 605.4,386.4 607.2,386.5 608.9,386.5 610.7,386.5 612.5,386.6 614.3,386.6 616.0,386.6 617.8,386.7 619.6,386.7 621.3,386.6 623.1,386.8 624.9,386.7 626.6,386.7 628.4,386.7 630.2,386.7 631.9,386.7 633.7,386.8 635.5,386.8 637.3,386.8 639.0,386.8 640.8,386.9 642.6,386.7 644.3,386.9 646.1,386.9 647.9,386.8" fill="none" stroke="#6a6a6a" stroke-width="1.2" stroke-linejoin="round" />
<polyline points="549.8,366.6 549.9,368.1 550.0,369.9 550.1,371.2 550.2,372.0 550.3,373.0 550.4,374.2 550.5,374.6 550.6,374.7 550.7,375.4 550.8,376.3 550.9,376.6 551.0,377.3 551.1,377.7 551.2,377.8 551.3,377.4 551.4,378.3 551.5,379.0 551.6,378.7 551.7,379.0 551.8,378.9 552.2,379.4 552.6,380.3 553.0,380.7 553.3,381.3 553.7,381.2 554.1,381.9 554.5,382.0 554.9,381.8 555.2,382.6 555.6,382.6 556.0,382.8 556.4,382.9 556.8,383.0 557.1,383.0 557.5,383.3 557.9,383.4 558.3,383.7 558.7,383.6 559.0,383.9 559.4,383.7 561.2,384.2 562.9,384.4 564.7,384.7 566.5,384.9 568.3,385.0 570.0,385.1 571.8,385.3 573.6,385.5 575.3,385.5 577.1,385.7 578.9,385.8 580.6,385.8 582.4,385.9 584.2,385.8 585.9,386.0 587.7,386.1 589.5,386.0 591.3,386.1 593.0,386.1 594.8,386.1 596.6,386.1 598.3,386.3 600.1,386.2 601.9,386.3 603.6,386.3 605.4,386.4 607.2,386.3 608.9,386.4 610.7,386.6 612.5,386.4 614.3,386.4 616.0,386.6 617.8,386.5 619.6,386.6 621.3,386.6 623.1,386.6 624.9,386.6 626.6,386.6 628.4,386.7 630.2,386.7 631.9,386.8 633.7,386.7 635.5,386.8 637.3,386.7 639.0,386.8 640.8,386.7 642.6,386.8 644.3,386.7 646.1,386.8 647.9,386.8" fill="none" stroke="#6a6a6a" stroke-width="1.2" stroke-linejoin="round" />
<polyline points="549.8,360.9 549.9,361.5 550.0,364.4 550.1,367.8 550.2,368.2 550.3,370.1 550.4,371.0 550.5,371.2 550.6,372.0 550.7,372.8 550.8,372.6 550.9,373.0 551.0,374.1 551.1,375.3 551.2,374.6 551.3,375.5 551.4,375.6 551.5,376.4 551.6,376.3 551.7,376.7 551.8,377.3 552.2,377.6 552.6,378.3 553.0,379.2 553.3,379.7 553.7,380.4 554.1,380.3 554.5,380.5 554.9,380.4 555.2,381.0 555.6,381.5 556.0,381.5 556.4,381.8 556.8,381.9 557.1,382.0 557.5,382.1 557.9,382.4 558.3,382.1 558.7,382.6 559.0,382.6 559.4,382.7 561.2,383.4 562.9,383.4 564.7,383.9 566.5,384.2 568.3,384.5 570.0,384.5 571.8,384.8 573.6,384.8 575.3,384.8 577.1,385.1 578.9,385.2 580.6,385.2 582.4,385.2 584.2,385.4 585.9,385.5 587.7,385.6 589.5,385.6 591.3,385.6 593.0,385.8 594.8,385.9 596.6,385.8 598.3,385.8 600.1,385.8 601.9,385.9 603.6,386.0 605.4,386.0 607.2,386.1 608.9,386.0 610.7,386.1 612.5,386.1 614.3,386.1 616.0,386.2 617.8,386.3 619.6,386.3 621.3,386.3 623.1,386.2 624.9,386.3 626.6,386.3 628.4,386.3 630.2,386.4 631.9,386.4 633.7,386.3 635.5,386.4 637.3,386.4 639.0,386.5 640.8,386.5 642.6,386.4 644.3,386.5 646.1,386.5 647.9,386.6" fill="none" stroke="#6a6a6a" stroke-width="1.2" stroke-linejoin="round" />
<polyline points="549.8,363.1 549.9,367.2 550.0,367.4 550.1,369.0 550.2,370.8 550.3,371.3 550.4,372.5 550.5,373.1 550.6,374.1 550.7,374.3 550.8,374.3 550.9,374.9 551.0,375.4 551.1,376.2 551.2,376.2 551.3,377.0 551.4,377.3 551.5,377.4 551.6,378.0 551.7,377.9 551.8,378.7 552.2,378.5 552.6,379.3 553.0,379.9 553.3,380.6 553.7,380.9 554.1,381.2 554.5,381.7 554.9,381.7 555.2,382.0 555.6,381.9 556.0,382.0 556.4,382.2 556.8,382.8 557.1,382.9 557.5,382.6 557.9,382.9 558.3,383.0 558.7,383.1 559.0,383.3 559.4,383.1 561.2,383.7 562.9,384.0 564.7,384.5 566.5,384.6 568.3,384.6 570.0,384.9 571.8,385.0 573.6,385.2 575.3,385.2 577.1,385.4 578.9,385.5 580.6,385.5 582.4,385.5 584.2,385.7 585.9,385.8 587.7,385.8 589.5,385.9 591.3,385.9 593.0,385.9 594.8,386.0 596.6,386.0 598.3,386.1 600.1,386.2 601.9,386.2 603.6,386.1 605.4,386.3 607.2,386.3 608.9,386.3 610.7,386.3 612.5,386.3 614.3,386.4 616.0,386.3 617.8,386.5 619.6,386.5 621.3,386.5 623.1,386.6 624.9,386.4 626.6,386.4 628.4,386.6 630.2,386.6 631.9,386.6 633.7,386.5 635.5,386.6 637.3,386.6 639.0,386.6 640.8,386.6 642.6,386.6 644.3,386.6 646.1,386.7 647.9,386.7" fill="none" stroke="#6a6a6a" stroke-width="1.2" stroke-linejoin="round" />
<polyline points="549.8,366.3 549.9,368.3 550.0,370.0 550.1,372.0 550.2,372.7 550.3,372.3 550.4,374.2 550.5,374.7 550.6,374.9 550.7,375.8 550.8,375.9 550.9,377.2 551.0,376.3 551.1,377.3 551.2,377.9 551.3,377.7 551.4,377.9 551.5,378.5 551.6,378.6 551.7,378.8 551.8,378.8 552.2,379.9 552.6,380.3 553.0,381.0 553.3,380.6 553.7,381.5 554.1,381.5 554.5,382.1 554.9,382.1 555.2,382.5 555.6,382.4 556.0,382.6 556.4,382.5 556.8,383.0 557.1,383.3 557.5,383.2 557.9,383.5 558.3,383.4 558.7,383.9 559.0,383.8 559.4,383.7 561.2,384.2 562.9,384.5 564.7,384.4 566.5,385.0 568.3,385.0 570.0,385.1 571.8,385.3 573.6,385.5 575.3,385.5 577.1,385.6 578.9,385.6 580.6,385.8 582.4,385.8 584.2,386.0 585.9,386.0 587.7,386.0 589.5,386.1 591.3,386.0 593.0,386.2 594.8,386.1 596.6,386.2 598.3,386.3 600.1,386.3 601.9,386.3 603.6,386.4 605.4,386.4 607.2,386.4 608.9,386.4 610.7,386.4 612.5,386.5 614.3,386.5 616.0,386.6 617.8,386.5 619.6,386.5 621.3,386.7 623.1,386.6 624.9,386.6 626.6,386.6 628.4,386.7 630.2,386.7 631.9,386.6 633.7,386.7 635.5,386.8 637.3,386.7 639.0,386.8 640.8,386.7 642.6,386.8 644.3,386.8 646.1,386.8 647.9,386.8" fill="none" stroke="#6a6a6a" stroke-width="1.2" stroke-linejoin="round" />
<polyline points="549.8,366.0 549.9,368.5 550.0,370.5 550.1,370.1 550.2,371.7 550.3,373.1 550.4,374.1 550.5,375.5 550.6,375.0 550.7,376.1 550.8,375.9 550.9,376.6 551.0,377.5 551.1,377.4 551.2,377.8 551.3,378.1 551.4,378.3 551.5,378.5 551.6,378.8 551.7,378.8 551.8,379.0 552.2,379.9 552.6,380.4 553.0,380.9 553.3,381.3 553.7,381.6 554.1,381.8 554.5,382.1 554.9,382.6 555.2,382.5 555.6,382.8 556.0,382.8 556.4,382.6 556.8,383.0 557.1,383.6 557.5,383.6 557.9,383.4 558.3,383.7 558.7,383.9 559.0,384.0 559.4,383.9 561.2,384.3 562.9,384.5 564.7,384.8 566.5,384.9 568.3,385.1 570.0,385.3 571.8,385.3 573.6,385.3 575.3,385.6 577.1,385.7 578.9,385.6 580.6,385.9 582.4,385.9 584.2,385.9 585.9,385.9 587.7,386.0 589.5,386.0 591.3,386.1 593.0,386.2 594.8,386.2 596.6,386.2 598.3,386.3 600.1,386.2 601.9,386.3 603.6,386.3 605.4,386.4 607.2,386.5 608.9,386.5 610.7,386.5 612.5,386.5 614.3,386.5 616.0,386.5 617.8,386.5 619.6,386.6 621.3,386.7 623.1,386.6 624.9,386.7 626.6,386.6 628.4,386.7 630.2,386.7 631.9,386.8 633.7,386.8 635.5,386.6 637.3,386.8 639.0,386.9 640.8,386.8 642.6,386.8 644.3,386.7 646.1,386.8 647.9,386.9" fill="none" stroke="#6a6a6a" stroke-width="1.2" stroke-linejoin="round" />
<polyline points="549.8,366.9 549.9,369.7 550.0,371.5 550.1,371.0 550.2,372.5 550.3,373.6 550.4,374.5 550.5,374.5 550.6,375.7 550.7,376.1 550.8,377.1 550.9,377.1 551.0,377.5 551.1,378.0 551.2,378.1 551.3,378.1 551.4,378.8 551.5,378.9 551.6,379.5 551.7,379.5 551.8,379.5 552.2,380.3 552.6,380.7 553.0,381.0 553.3,381.7 553.7,381.7 554.1,381.8 554.5,382.3 554.9,382.4 555.2,382.7 555.6,382.9 556.0,382.8 556.4,383.1 556.8,383.2 557.1,383.5 557.5,383.6 557.9,383.6 558.3,383.7 558.7,384.1 559.0,383.9 559.4,384.0 561.2,384.2 562.9,384.7 564.7,384.9 566.5,385.2 568.3,385.1 570.0,385.2 571.8,385.4 573.6,385.6 575.3,385.6 577.1,385.8 578.9,385.8 580.6,385.9 582.4,385.9 584.2,386.1 585.9,386.1 587.7,386.0 589.5,386.2 591.3,386.2 593.0,386.1 594.8,386.3 596.6,386.2 598.3,386.4 600.1,386.3 601.9,386.5 603.6,386.4 605.4,386.5 607.2,386.5 608.9,386.5 610.7,386.5 612.5,386.5 614.3,386.5 616.0,386.6 617.8,386.6 619.6,386.7 621.3,386.7 623.1,386.7 624.9,386.7 626.6,386.7 628.4,386.7 630.2,386.7 631.9,386.7 633.7,386.8 635.5,386.8 637.3,386.8 639.0,386.8 640.8,386.8 642.6,386.9 644.3,386.8 646.1,386.8 647.9,386.9" fill="none" stroke="#6a6a6a" stroke-width="1.2" stroke-linejoin="round" />
<polyline points="549.8,366.2 549.9,368.7 550.0,370.8 550.1,371.5 550.2,372.7 550.3,373.7 550.4,374.0 550.5,374.2 550.6,375.4 550.7,375.9 550.8,376.6 550.9,376.5 551.0,376.9 551.1,377.3 551.2,377.2 551.3,377.8 551.4,377.9 551.5,378.5 551.6,378.6 551.7,379.1 551.8,378.9 552.2,379.4 552.6,380.5 553.0,380.9 553.3,381.1 553.7,381.4 554.1,381.6 554.5,382.5 554.9,382.3 555.2,382.3 555.6,382.6 556.0,383.0 556.4,382.8 556.8,383.1 557.1,383.2 557.5,383.4 557.9,383.5 558.3,383.5 558.7,383.8 559.0,384.2 559.4,383.8 561.2,384.5 562.9,384.5 564.7,384.7 566.5,384.9 568.3,385.2 570.0,385.2 571.8,385.3 573.6,385.5 575.3,385.5 577.1,385.7 578.9,385.6 580.6,385.8 582.4,385.8 584.2,385.9 585.9,385.9 587.7,386.0 589.5,386.1 591.3,386.1 593.0,386.1 594.8,386.2 596.6,386.2 598.3,386.3 600.1,386.3 601.9,386.3 603.6,386.4 605.4,386.4 607.2,386.4 608.9,386.5 610.7,386.5 612.5,386.5 614.3,386.6 616.0,386.6 617.8,386.6 619.6,386.5 621.3,386.5 623.1,386.6 624.9,386.6 626.6,386.7 628.4,386.6 630.2,386.6 631.9,386.7 633.7,386.7 635.5,386.7 637.3,386.8 639.0,386.8 640.8,386.8 642.6,386.8 644.3,386.8 646.1,386.8 647.9,386.8" fill="none" stroke="#6a6a6a" stroke-width="1.2" stroke-linejoin="round" />
<polyline points="549.8,367.4 549.9,369.3 550.0,371.0 550.1,372.4 550.2,372.7 550.3,374.2 550.4,373.9 550.5,375.0 550.6,375.7 550.7,376.4 550.8,377.1 550.9,377.3 551.0,377.5 551.1,377.8 551.2,378.1 551.3,378.6 551.4,378.7 551.5,378.8 551.6,379.3 551.7,378.8 551.8,379.5 552.2,380.1 552.6,380.4 553.0,381.0 553.3,381.2 553.7,381.6 554.1,382.0 554.5,382.4 554.9,382.8 555.2,382.7 555.6,383.1 556.0,383.1 556.4,382.8 556.8,383.6 557.1,383.5 557.5,383.3 557.9,383.5 558.3,383.8 558.7,384.1 559.0,383.7 559.4,384.0 561.2,384.4 562.9,384.8 564.7,384.8 566.5,385.1 568.3,385.3 570.0,385.3 571.8,385.5 573.6,385.4 575.3,385.6 577.1,385.8 578.9,385.8 580.6,385.9 582.4,385.9 584.2,386.1 585.9,386.1 587.7,386.1 589.5,386.2 591.3,386.3 593.0,386.4 594.8,386.3 596.6,386.3 598.3,386.4 600.1,386.4 601.9,386.3 603.6,386.4 605.4,386.5 607.2,386.5 608.9,386.4 610.7,386.5 612.5,386.5 614.3,386.6 616.0,386.7 617.8,386.7 619.6,386.6 621.3,386.7 623.1,386.6 624.9,386.7 626.6,386.7 628.4,386.7 630.2,386.7 631.9,386.7 633.7,386.8 635.5,386.8 637.3,386.8 639.0,386.8 640.8,386.9 642.6,386.9 644.3,386.8 646.1,386.9 647.9,386.8" fill="none" stroke="#6a6a6a" stroke-width="1.2" stroke-linejoin="round" />
<polyline points="549.8,365.1 549.9,367.2 550.0,369.7 550.1,370.7 550.2,371.4 550.3,373.4 550.4,373.8 550.5,374.7 550.6,374.6 550.7,376.1 550.8,376.1 550.9,376.5 551.0,376.4 551.1,376.5 551.2,377.3 551.3,377.1 551.4,377.7 551.5,378.6 551.6,378.5 551.7,378.9 551.8,378.6 552.2,379.4 552.6,380.0 553.0,380.7 553.3,381.0 553.7,381.5 554.1,381.6 554.5,381.6 554.9,382.1 555.2,382.0 555.6,382.5 556.0,382.7 556.4,382.7 556.8,383.2 557.1,382.9 557.5,383.2 557.9,383.5 558.3,383.3 558.7,383.7 559.0,383.5 559.4,383.6 561.2,384.0 562.9,384.5 564.7,384.7 566.5,384.7 568.3,384.9 570.0,385.1 571.8,385.1 573.6,385.3 575.3,385.5 577.1,385.6 578.9,385.7 580.6,385.8 582.4,385.8 584.2,385.8 585.9,386.0 587.7,386.0 589.5,386.0 591.3,386.0 593.0,386.2 594.8,386.2 596.6,386.2 598.3,386.2 600.1,386.2 601.9,386.4 603.6,386.3 605.4,386.4 607.2,386.4 608.9,386.4 610.7,386.5 612.5,386.5 614.3,386.4 616.0,386.5 617.8,386.5 619.6,386.5 621.3,386.6 623.1,386.5 624.9,386.5 626.6,386.6 628.4,386.6 630.2,386.7 631.9,386.7 633.7,386.7 635.5,386.6 637.3,386.7 639.0,386.7 640.8,386.7 642.6,386.7 644.3,386.9 646.1,386.7 647.9,386.7" fill="none" stroke="#6a6a6a" stroke-width="1.2" stroke-linejoin="round" />
<polyline points="549.8,367.6 549.9,368.6 550.0,370.3 550.1,371.8 550.2,372.2 550.3,373.5 550.4,373.5 550.5,375.7 550.6,375.2 550.7,375.9 550.8,376.4 550.9,376.5 551.0,377.2 551.1,377.1 551.2,377.5 551.3,377.7 551.4,378.0 551.5,378.8 551.6,378.7 551.7,378.8 551.8,378.7 552.2,379.5 552.6,380.3 553.0,380.5 553.3,381.0 553.7,381.2 554.1,381.6 554.5,381.9 554.9,382.4 555.2,382.4 555.6,382.6 556.0,382.6 556.4,382.9 556.8,383.1 557.1,383.1 557.5,383.3 557.9,383.6 558.3,383.4 558.7,383.6 559.0,383.8 559.4,384.0 561.2,384.2 562.9,384.4 564.7,384.6 566.5,385.1 568.3,384.9 570.0,385.2 571.8,385.2 573.6,385.4 575.3,385.5 577.1,385.5 578.9,385.7 580.6,385.8 582.4,385.9 584.2,385.9 585.9,386.0 587.7,386.0 589.5,386.0 591.3,386.1 593.0,386.1 594.8,386.2 596.6,386.2 598.3,386.3 600.1,386.2 601.9,386.3 603.6,386.4 605.4,386.4 607.2,386.4 608.9,386.5 610.7,386.5 612.5,386.5 614.3,386.4 616.0,386.6 617.8,386.6 619.6,386.6 621.3,386.6 623.1,386.6 624.9,386.7 626.6,386.6 628.4,386.6 630.2,386.7 631.9,386.7 633.7,386.7 635.5,386.7 637.3,386.8 639.0,386.7 640.8,386.7 642.6,386.8 644.3,386.8 646.1,386.8 647.9,386.8" fill="none" stroke="#6a6a6a" stroke-width="1.2" stroke-linejoin="round" />
<polyline points="549.8,363.3 549.9,364.9 550.0,366.4 550.1,367.1 550.2,369.6 550.3,369.8 550.4,370.9 550.5,371.8 550.6,373.3 550.7,373.1 550.8,373.6 550.9,374.7 551.0,373.6 551.1,375.0 551.2,375.7 551.3,375.6 551.4,376.2 551.5,376.4 551.6,377.1 551.7,376.6 551.8,377.2 552.2,378.1 552.6,378.4 553.0,379.4 553.3,379.5 553.7,379.9 554.1,380.1 554.5,380.4 554.9,380.9 555.2,381.1 555.6,381.6 556.0,382.1 556.4,381.7 556.8,381.9 557.1,382.4 557.5,382.7 557.9,382.7 558.3,382.8 558.7,382.7 559.0,382.7 559.4,383.0 561.2,383.5 562.9,383.6 564.7,384.0 566.5,384.4 568.3,384.5 570.0,384.5 571.8,384.7 573.6,385.0 575.3,385.1 577.1,385.1 578.9,385.1 580.6,385.2 582.4,385.2 584.2,385.5 585.9,385.5 587.7,385.6 589.5,385.5 591.3,385.8 593.0,385.8 594.8,385.7 596.6,385.9 598.3,385.8 600.1,386.0 601.9,386.0 603.6,385.8 605.4,386.1 607.2,386.1 608.9,386.1 610.7,386.1 612.5,386.0 614.3,386.2 616.0,386.1 617.8,386.2 619.6,386.3 621.3,386.3 623.1,386.3 624.9,386.3 626.6,386.3 628.4,386.4 630.2,386.4 631.9,386.5 633.7,386.4 635.5,386.5 637.3,386.4 639.0,386.5 640.8,386.5 642.6,386.5 644.3,386.5 646.1,386.5 647.9,386.5" fill="none" stroke="#6a6a6a" stroke-width="1.2" stroke-linejoin="round" />
<line x1="549.30" y1="293.90" x2="549.30" y2="388.00" stroke="#7a7a7a" stroke-width="2" />
<line x1="548.30" y1="388.00" x2="650.40" y2="388.00" stroke="#7a7a7a" stroke-width="2" />
<line x1="545.80" y1="388.00" x2="549.30" y2="388.00" stroke="#333" stroke-width="1" />
<text x="542.0" y="392.3" font-size="12.2" text-anchor="end" fill="#333" font-weight="normal" >0</text>
<line x1="545.80" y1="341.20" x2="549.30" y2="341.20" stroke="#333" stroke-width="1" />
<text x="542.0" y="345.5" font-size="12.2" text-anchor="end" fill="#333" font-weight="normal" >4</text>
<line x1="545.80" y1="294.40" x2="549.30" y2="294.40" stroke="#333" stroke-width="1" />
<text x="542.0" y="298.7" font-size="12.2" text-anchor="end" fill="#333" font-weight="normal" >8</text>
<line x1="549.30" y1="388.00" x2="549.30" y2="391.50" stroke="#333" stroke-width="1" />
<text x="549.3" y="404.2" font-size="12.2" text-anchor="middle" fill="#333" font-weight="normal" >0</text>
<line x1="599.85" y1="388.00" x2="599.85" y2="391.50" stroke="#333" stroke-width="1" />
<text x="600.0" y="404.2" font-size="12.2" text-anchor="middle" fill="#333" font-weight="normal" letter-spacing="0.45">20,000</text>
<line x1="650.40" y1="388.00" x2="650.40" y2="391.50" stroke="#333" stroke-width="1" />
<text x="650.6" y="404.2" font-size="12.2" text-anchor="middle" fill="#333" font-weight="normal" letter-spacing="0.45">40,000</text>
<text x="599.8" y="420.3" font-size="12.9" text-anchor="middle" fill="#333" font-weight="normal" >Gates</text>
<text x="0" y="0" font-size="13.0" text-anchor="middle" fill="#333" transform="translate(521.6,342.5) rotate(-90)">s.e.m. τ (μs)</text>
<text x="104.1" y="281.3" font-size="12.9" text-anchor="middle" fill="#e3202d" font-weight="normal" >~12,000 gates</text>
<line x1="83.80" y1="286.20" x2="77.60" y2="307.50" stroke="#e3202d" stroke-width="1.2" />
<polygon points="75.9,312.6 74.6,305.6 80.3,307.2" fill="#e3202d"/>
<text x="424.4" y="293.8" font-size="12.6" text-anchor="middle" fill="#e3202d" font-weight="normal" >~3,000 gates</text>
<line x1="398.40" y1="301.40" x2="392.40" y2="322.50" stroke="#e3202d" stroke-width="1.2" />
<polygon points="390.8,327.7 389.6,320.7 395.2,322.3" fill="#e3202d"/>
</svg>
</body></html>
